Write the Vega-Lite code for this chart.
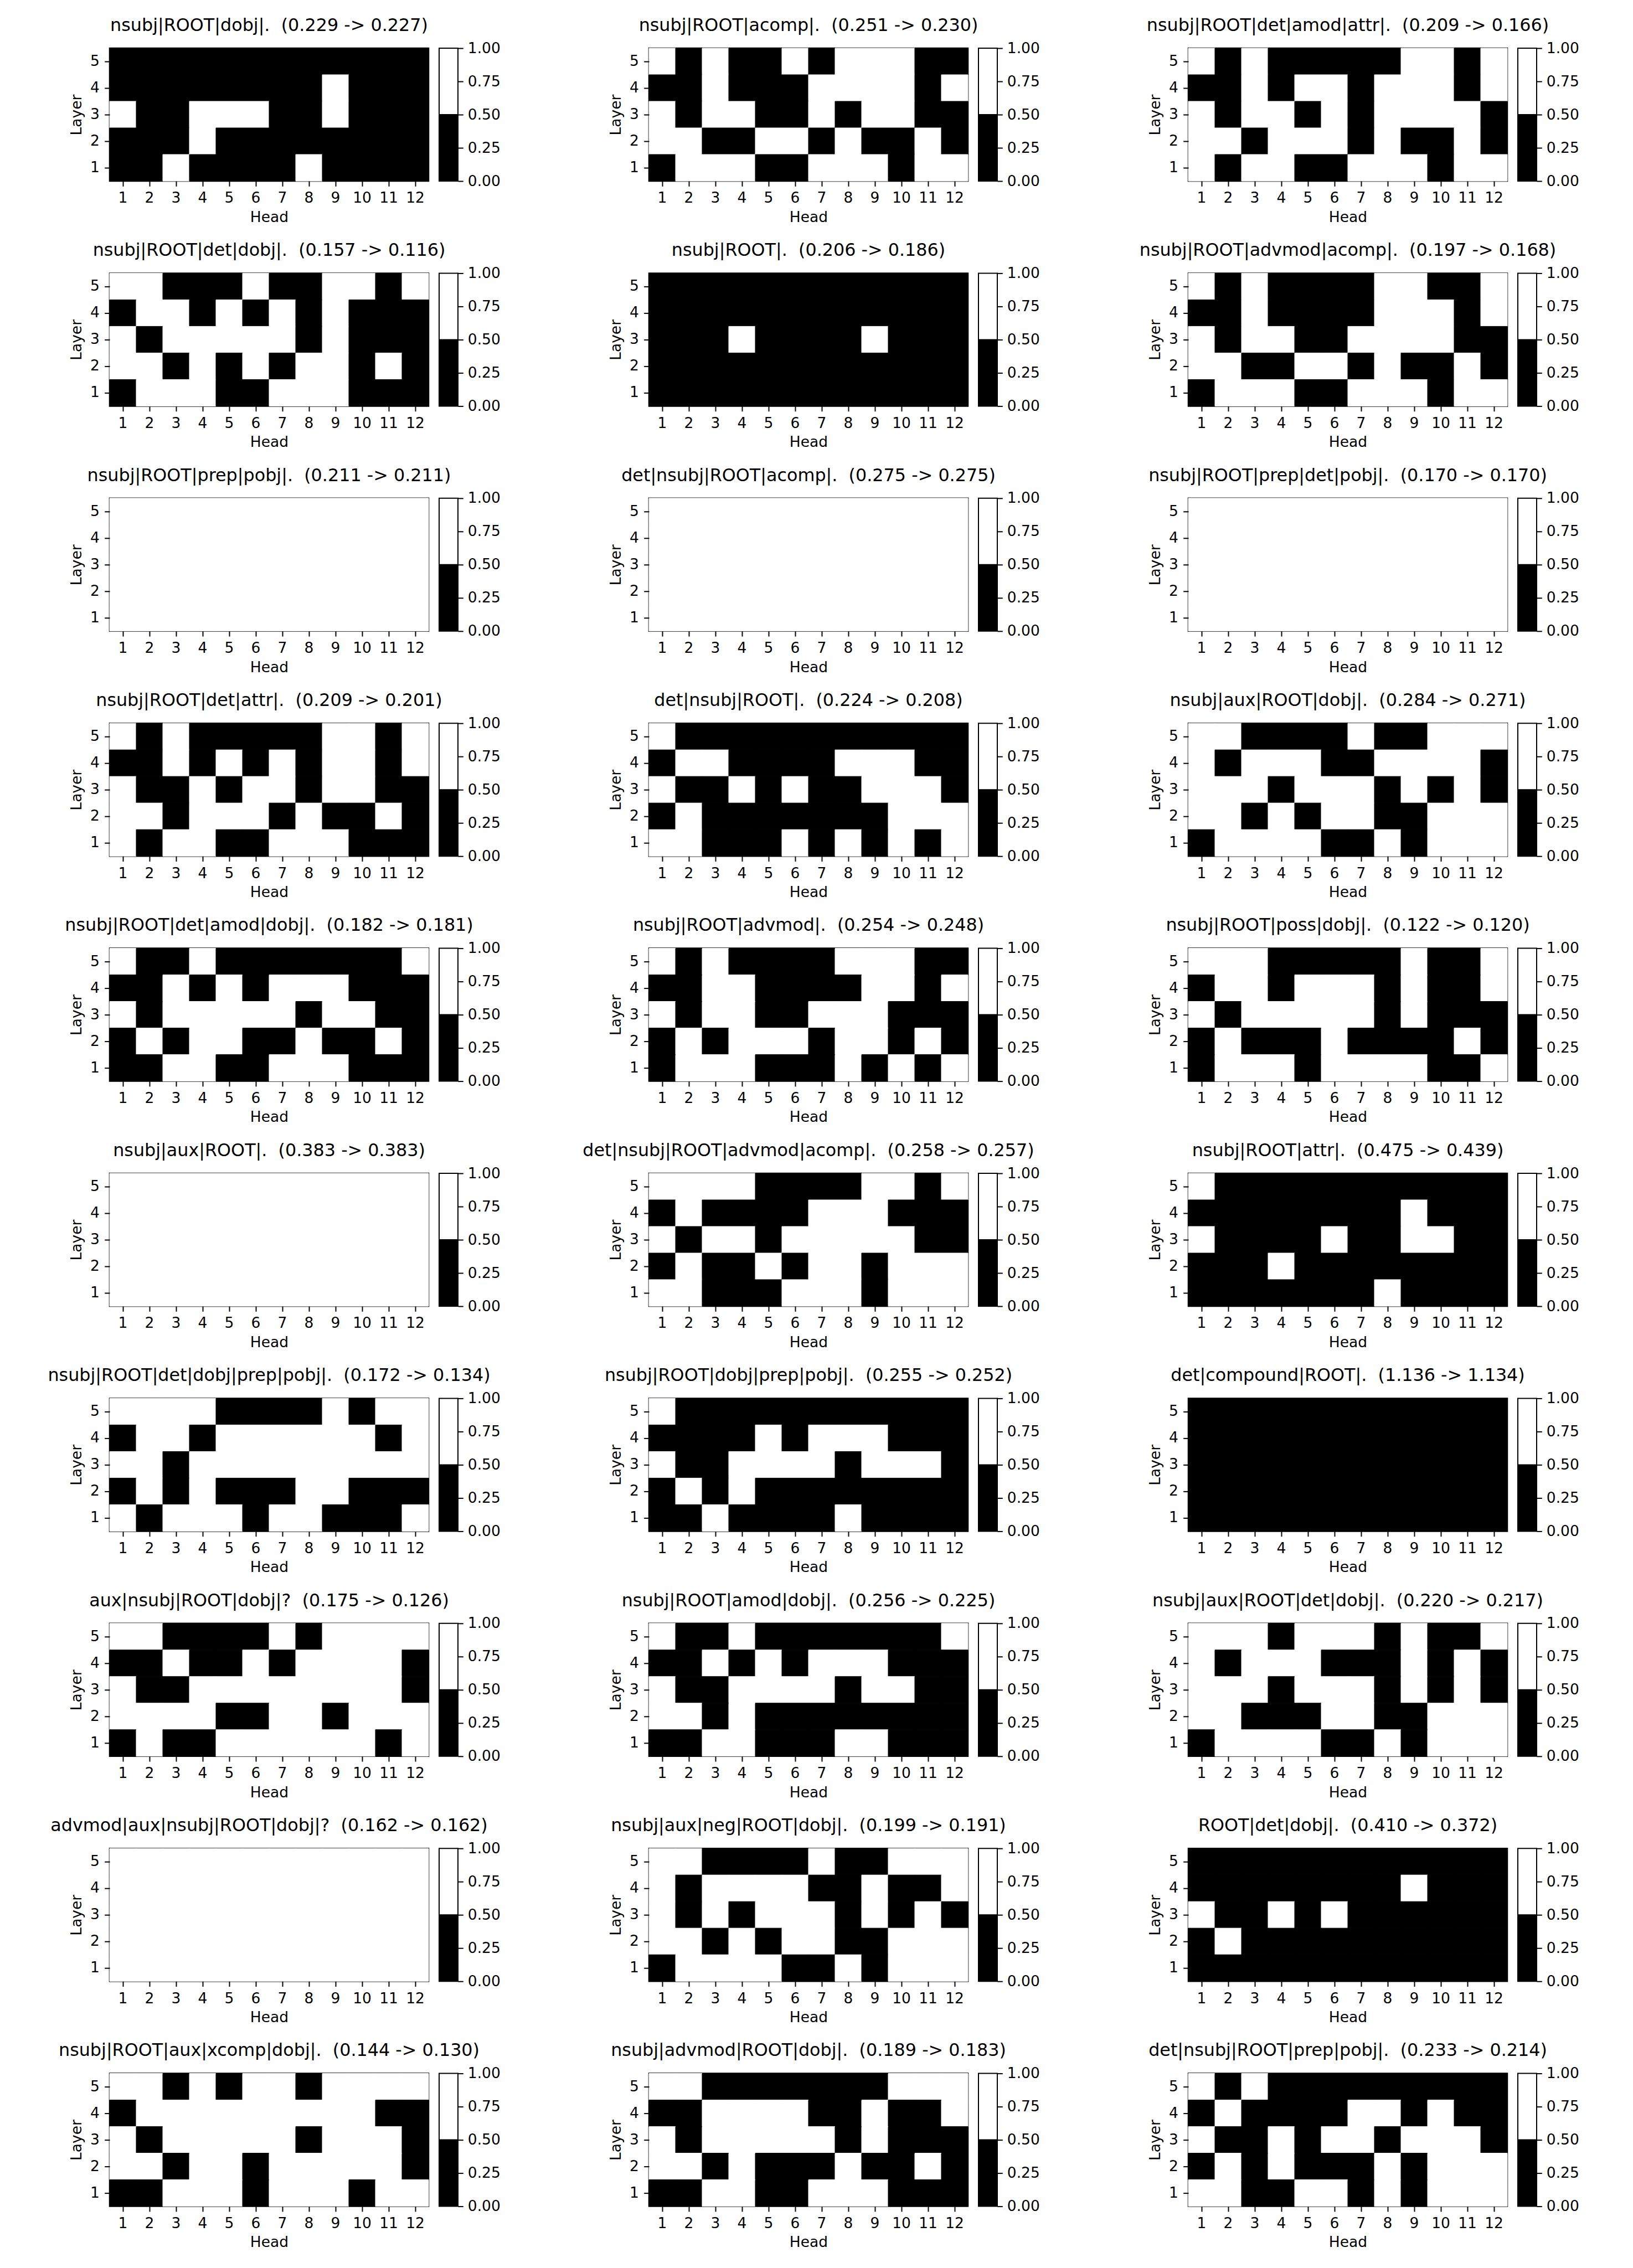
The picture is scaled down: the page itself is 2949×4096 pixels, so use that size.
{
"$schema":"https://vega.github.io/schema/vega-lite/v6.json",
"background":"white",
"padding":{"left":85,"top":29,"right":0,"bottom":0},
"datasets":{
"cb":[{"lo":0,"hi":0.5,"v":0},{"lo":0.5,"hi":1,"v":1}],
"p1":[{"l":5,"h":1,"v":0},{"l":5,"h":2,"v":0},{"l":5,"h":3,"v":0},{"l":5,"h":4,"v":0},{"l":5,"h":5,"v":0},{"l":5,"h":6,"v":0},{"l":5,"h":7,"v":0},{"l":5,"h":8,"v":0},{"l":5,"h":9,"v":0},{"l":5,"h":10,"v":0},{"l":5,"h":11,"v":0},{"l":5,"h":12,"v":0},
{"l":4,"h":1,"v":0},{"l":4,"h":2,"v":0},{"l":4,"h":3,"v":0},{"l":4,"h":4,"v":0},{"l":4,"h":5,"v":0},{"l":4,"h":6,"v":0},{"l":4,"h":7,"v":0},{"l":4,"h":8,"v":0},{"l":4,"h":9,"v":1},{"l":4,"h":10,"v":0},{"l":4,"h":11,"v":0},{"l":4,"h":12,"v":0},
{"l":3,"h":1,"v":1},{"l":3,"h":2,"v":0},{"l":3,"h":3,"v":0},{"l":3,"h":4,"v":1},{"l":3,"h":5,"v":1},{"l":3,"h":6,"v":1},{"l":3,"h":7,"v":0},{"l":3,"h":8,"v":0},{"l":3,"h":9,"v":1},{"l":3,"h":10,"v":0},{"l":3,"h":11,"v":0},{"l":3,"h":12,"v":0},
{"l":2,"h":1,"v":0},{"l":2,"h":2,"v":0},{"l":2,"h":3,"v":0},{"l":2,"h":4,"v":1},{"l":2,"h":5,"v":0},{"l":2,"h":6,"v":0},{"l":2,"h":7,"v":0},{"l":2,"h":8,"v":0},{"l":2,"h":9,"v":0},{"l":2,"h":10,"v":0},{"l":2,"h":11,"v":0},{"l":2,"h":12,"v":0},
{"l":1,"h":1,"v":0},{"l":1,"h":2,"v":0},{"l":1,"h":3,"v":1},{"l":1,"h":4,"v":0},{"l":1,"h":5,"v":0},{"l":1,"h":6,"v":0},{"l":1,"h":7,"v":0},{"l":1,"h":8,"v":1},{"l":1,"h":9,"v":0},{"l":1,"h":10,"v":0},{"l":1,"h":11,"v":0},{"l":1,"h":12,"v":0}],
"p2":[{"l":5,"h":1,"v":1},{"l":5,"h":2,"v":0},{"l":5,"h":3,"v":1},{"l":5,"h":4,"v":0},{"l":5,"h":5,"v":0},{"l":5,"h":6,"v":1},{"l":5,"h":7,"v":0},{"l":5,"h":8,"v":1},{"l":5,"h":9,"v":1},{"l":5,"h":10,"v":1},{"l":5,"h":11,"v":0},{"l":5,"h":12,"v":0},
{"l":4,"h":1,"v":0},{"l":4,"h":2,"v":0},{"l":4,"h":3,"v":1},{"l":4,"h":4,"v":0},{"l":4,"h":5,"v":0},{"l":4,"h":6,"v":0},{"l":4,"h":7,"v":1},{"l":4,"h":8,"v":1},{"l":4,"h":9,"v":1},{"l":4,"h":10,"v":1},{"l":4,"h":11,"v":0},{"l":4,"h":12,"v":1},
{"l":3,"h":1,"v":1},{"l":3,"h":2,"v":0},{"l":3,"h":3,"v":1},{"l":3,"h":4,"v":1},{"l":3,"h":5,"v":0},{"l":3,"h":6,"v":0},{"l":3,"h":7,"v":1},{"l":3,"h":8,"v":0},{"l":3,"h":9,"v":1},{"l":3,"h":10,"v":1},{"l":3,"h":11,"v":0},{"l":3,"h":12,"v":0},
{"l":2,"h":1,"v":1},{"l":2,"h":2,"v":1},{"l":2,"h":3,"v":0},{"l":2,"h":4,"v":0},{"l":2,"h":5,"v":1},{"l":2,"h":6,"v":1},{"l":2,"h":7,"v":0},{"l":2,"h":8,"v":1},{"l":2,"h":9,"v":0},{"l":2,"h":10,"v":0},{"l":2,"h":11,"v":1},{"l":2,"h":12,"v":0},
{"l":1,"h":1,"v":0},{"l":1,"h":2,"v":1},{"l":1,"h":3,"v":1},{"l":1,"h":4,"v":1},{"l":1,"h":5,"v":0},{"l":1,"h":6,"v":0},{"l":1,"h":7,"v":1},{"l":1,"h":8,"v":1},{"l":1,"h":9,"v":1},{"l":1,"h":10,"v":0},{"l":1,"h":11,"v":1},{"l":1,"h":12,"v":1}],
"p3":[{"l":5,"h":1,"v":1},{"l":5,"h":2,"v":0},{"l":5,"h":3,"v":1},{"l":5,"h":4,"v":0},{"l":5,"h":5,"v":0},{"l":5,"h":6,"v":0},{"l":5,"h":7,"v":0},{"l":5,"h":8,"v":0},{"l":5,"h":9,"v":1},{"l":5,"h":10,"v":1},{"l":5,"h":11,"v":0},{"l":5,"h":12,"v":1},
{"l":4,"h":1,"v":0},{"l":4,"h":2,"v":0},{"l":4,"h":3,"v":1},{"l":4,"h":4,"v":0},{"l":4,"h":5,"v":1},{"l":4,"h":6,"v":1},{"l":4,"h":7,"v":0},{"l":4,"h":8,"v":1},{"l":4,"h":9,"v":1},{"l":4,"h":10,"v":1},{"l":4,"h":11,"v":0},{"l":4,"h":12,"v":1},
{"l":3,"h":1,"v":1},{"l":3,"h":2,"v":0},{"l":3,"h":3,"v":1},{"l":3,"h":4,"v":1},{"l":3,"h":5,"v":0},{"l":3,"h":6,"v":1},{"l":3,"h":7,"v":0},{"l":3,"h":8,"v":1},{"l":3,"h":9,"v":1},{"l":3,"h":10,"v":1},{"l":3,"h":11,"v":1},{"l":3,"h":12,"v":0},
{"l":2,"h":1,"v":1},{"l":2,"h":2,"v":1},{"l":2,"h":3,"v":0},{"l":2,"h":4,"v":1},{"l":2,"h":5,"v":1},{"l":2,"h":6,"v":1},{"l":2,"h":7,"v":0},{"l":2,"h":8,"v":1},{"l":2,"h":9,"v":0},{"l":2,"h":10,"v":0},{"l":2,"h":11,"v":1},{"l":2,"h":12,"v":0},
{"l":1,"h":1,"v":1},{"l":1,"h":2,"v":0},{"l":1,"h":3,"v":1},{"l":1,"h":4,"v":1},{"l":1,"h":5,"v":0},{"l":1,"h":6,"v":0},{"l":1,"h":7,"v":1},{"l":1,"h":8,"v":1},{"l":1,"h":9,"v":1},{"l":1,"h":10,"v":0},{"l":1,"h":11,"v":1},{"l":1,"h":12,"v":1}],
"p4":[{"l":5,"h":1,"v":1},{"l":5,"h":2,"v":1},{"l":5,"h":3,"v":0},{"l":5,"h":4,"v":0},{"l":5,"h":5,"v":0},{"l":5,"h":6,"v":1},{"l":5,"h":7,"v":0},{"l":5,"h":8,"v":0},{"l":5,"h":9,"v":1},{"l":5,"h":10,"v":1},{"l":5,"h":11,"v":0},{"l":5,"h":12,"v":1},
{"l":4,"h":1,"v":0},{"l":4,"h":2,"v":1},{"l":4,"h":3,"v":1},{"l":4,"h":4,"v":0},{"l":4,"h":5,"v":1},{"l":4,"h":6,"v":0},{"l":4,"h":7,"v":1},{"l":4,"h":8,"v":0},{"l":4,"h":9,"v":1},{"l":4,"h":10,"v":0},{"l":4,"h":11,"v":0},{"l":4,"h":12,"v":0},
{"l":3,"h":1,"v":1},{"l":3,"h":2,"v":0},{"l":3,"h":3,"v":1},{"l":3,"h":4,"v":1},{"l":3,"h":5,"v":1},{"l":3,"h":6,"v":1},{"l":3,"h":7,"v":1},{"l":3,"h":8,"v":0},{"l":3,"h":9,"v":1},{"l":3,"h":10,"v":0},{"l":3,"h":11,"v":0},{"l":3,"h":12,"v":0},
{"l":2,"h":1,"v":1},{"l":2,"h":2,"v":1},{"l":2,"h":3,"v":0},{"l":2,"h":4,"v":1},{"l":2,"h":5,"v":0},{"l":2,"h":6,"v":1},{"l":2,"h":7,"v":0},{"l":2,"h":8,"v":1},{"l":2,"h":9,"v":1},{"l":2,"h":10,"v":0},{"l":2,"h":11,"v":1},{"l":2,"h":12,"v":0},
{"l":1,"h":1,"v":0},{"l":1,"h":2,"v":1},{"l":1,"h":3,"v":1},{"l":1,"h":4,"v":1},{"l":1,"h":5,"v":0},{"l":1,"h":6,"v":0},{"l":1,"h":7,"v":1},{"l":1,"h":8,"v":1},{"l":1,"h":9,"v":1},{"l":1,"h":10,"v":0},{"l":1,"h":11,"v":0},{"l":1,"h":12,"v":0}],
"p5":[{"l":5,"h":1,"v":0},{"l":5,"h":2,"v":0},{"l":5,"h":3,"v":0},{"l":5,"h":4,"v":0},{"l":5,"h":5,"v":0},{"l":5,"h":6,"v":0},{"l":5,"h":7,"v":0},{"l":5,"h":8,"v":0},{"l":5,"h":9,"v":0},{"l":5,"h":10,"v":0},{"l":5,"h":11,"v":0},{"l":5,"h":12,"v":0},
{"l":4,"h":1,"v":0},{"l":4,"h":2,"v":0},{"l":4,"h":3,"v":0},{"l":4,"h":4,"v":0},{"l":4,"h":5,"v":0},{"l":4,"h":6,"v":0},{"l":4,"h":7,"v":0},{"l":4,"h":8,"v":0},{"l":4,"h":9,"v":0},{"l":4,"h":10,"v":0},{"l":4,"h":11,"v":0},{"l":4,"h":12,"v":0},
{"l":3,"h":1,"v":0},{"l":3,"h":2,"v":0},{"l":3,"h":3,"v":0},{"l":3,"h":4,"v":1},{"l":3,"h":5,"v":0},{"l":3,"h":6,"v":0},{"l":3,"h":7,"v":0},{"l":3,"h":8,"v":0},{"l":3,"h":9,"v":1},{"l":3,"h":10,"v":0},{"l":3,"h":11,"v":0},{"l":3,"h":12,"v":0},
{"l":2,"h":1,"v":0},{"l":2,"h":2,"v":0},{"l":2,"h":3,"v":0},{"l":2,"h":4,"v":0},{"l":2,"h":5,"v":0},{"l":2,"h":6,"v":0},{"l":2,"h":7,"v":0},{"l":2,"h":8,"v":0},{"l":2,"h":9,"v":0},{"l":2,"h":10,"v":0},{"l":2,"h":11,"v":0},{"l":2,"h":12,"v":0},
{"l":1,"h":1,"v":0},{"l":1,"h":2,"v":0},{"l":1,"h":3,"v":0},{"l":1,"h":4,"v":0},{"l":1,"h":5,"v":0},{"l":1,"h":6,"v":0},{"l":1,"h":7,"v":0},{"l":1,"h":8,"v":0},{"l":1,"h":9,"v":0},{"l":1,"h":10,"v":0},{"l":1,"h":11,"v":0},{"l":1,"h":12,"v":0}],
"p6":[{"l":5,"h":1,"v":1},{"l":5,"h":2,"v":0},{"l":5,"h":3,"v":1},{"l":5,"h":4,"v":0},{"l":5,"h":5,"v":0},{"l":5,"h":6,"v":0},{"l":5,"h":7,"v":0},{"l":5,"h":8,"v":1},{"l":5,"h":9,"v":1},{"l":5,"h":10,"v":0},{"l":5,"h":11,"v":0},{"l":5,"h":12,"v":1},
{"l":4,"h":1,"v":0},{"l":4,"h":2,"v":0},{"l":4,"h":3,"v":1},{"l":4,"h":4,"v":0},{"l":4,"h":5,"v":0},{"l":4,"h":6,"v":0},{"l":4,"h":7,"v":0},{"l":4,"h":8,"v":1},{"l":4,"h":9,"v":1},{"l":4,"h":10,"v":1},{"l":4,"h":11,"v":0},{"l":4,"h":12,"v":1},
{"l":3,"h":1,"v":1},{"l":3,"h":2,"v":0},{"l":3,"h":3,"v":1},{"l":3,"h":4,"v":1},{"l":3,"h":5,"v":0},{"l":3,"h":6,"v":0},{"l":3,"h":7,"v":1},{"l":3,"h":8,"v":1},{"l":3,"h":9,"v":1},{"l":3,"h":10,"v":1},{"l":3,"h":11,"v":0},{"l":3,"h":12,"v":0},
{"l":2,"h":1,"v":1},{"l":2,"h":2,"v":1},{"l":2,"h":3,"v":0},{"l":2,"h":4,"v":0},{"l":2,"h":5,"v":1},{"l":2,"h":6,"v":1},{"l":2,"h":7,"v":0},{"l":2,"h":8,"v":1},{"l":2,"h":9,"v":0},{"l":2,"h":10,"v":0},{"l":2,"h":11,"v":1},{"l":2,"h":12,"v":0},
{"l":1,"h":1,"v":0},{"l":1,"h":2,"v":1},{"l":1,"h":3,"v":1},{"l":1,"h":4,"v":1},{"l":1,"h":5,"v":0},{"l":1,"h":6,"v":0},{"l":1,"h":7,"v":1},{"l":1,"h":8,"v":1},{"l":1,"h":9,"v":1},{"l":1,"h":10,"v":0},{"l":1,"h":11,"v":1},{"l":1,"h":12,"v":1}],
"white":[{"l":5,"h":1,"v":1},{"l":5,"h":2,"v":1},{"l":5,"h":3,"v":1},{"l":5,"h":4,"v":1},{"l":5,"h":5,"v":1},{"l":5,"h":6,"v":1},{"l":5,"h":7,"v":1},{"l":5,"h":8,"v":1},{"l":5,"h":9,"v":1},{"l":5,"h":10,"v":1},{"l":5,"h":11,"v":1},{"l":5,"h":12,"v":1},
{"l":4,"h":1,"v":1},{"l":4,"h":2,"v":1},{"l":4,"h":3,"v":1},{"l":4,"h":4,"v":1},{"l":4,"h":5,"v":1},{"l":4,"h":6,"v":1},{"l":4,"h":7,"v":1},{"l":4,"h":8,"v":1},{"l":4,"h":9,"v":1},{"l":4,"h":10,"v":1},{"l":4,"h":11,"v":1},{"l":4,"h":12,"v":1},
{"l":3,"h":1,"v":1},{"l":3,"h":2,"v":1},{"l":3,"h":3,"v":1},{"l":3,"h":4,"v":1},{"l":3,"h":5,"v":1},{"l":3,"h":6,"v":1},{"l":3,"h":7,"v":1},{"l":3,"h":8,"v":1},{"l":3,"h":9,"v":1},{"l":3,"h":10,"v":1},{"l":3,"h":11,"v":1},{"l":3,"h":12,"v":1},
{"l":2,"h":1,"v":1},{"l":2,"h":2,"v":1},{"l":2,"h":3,"v":1},{"l":2,"h":4,"v":1},{"l":2,"h":5,"v":1},{"l":2,"h":6,"v":1},{"l":2,"h":7,"v":1},{"l":2,"h":8,"v":1},{"l":2,"h":9,"v":1},{"l":2,"h":10,"v":1},{"l":2,"h":11,"v":1},{"l":2,"h":12,"v":1},
{"l":1,"h":1,"v":1},{"l":1,"h":2,"v":1},{"l":1,"h":3,"v":1},{"l":1,"h":4,"v":1},{"l":1,"h":5,"v":1},{"l":1,"h":6,"v":1},{"l":1,"h":7,"v":1},{"l":1,"h":8,"v":1},{"l":1,"h":9,"v":1},{"l":1,"h":10,"v":1},{"l":1,"h":11,"v":1},{"l":1,"h":12,"v":1}],
"black":[{"l":5,"h":1,"v":0},{"l":5,"h":2,"v":0},{"l":5,"h":3,"v":0},{"l":5,"h":4,"v":0},{"l":5,"h":5,"v":0},{"l":5,"h":6,"v":0},{"l":5,"h":7,"v":0},{"l":5,"h":8,"v":0},{"l":5,"h":9,"v":0},{"l":5,"h":10,"v":0},{"l":5,"h":11,"v":0},{"l":5,"h":12,"v":0},
{"l":4,"h":1,"v":0},{"l":4,"h":2,"v":0},{"l":4,"h":3,"v":0},{"l":4,"h":4,"v":0},{"l":4,"h":5,"v":0},{"l":4,"h":6,"v":0},{"l":4,"h":7,"v":0},{"l":4,"h":8,"v":0},{"l":4,"h":9,"v":0},{"l":4,"h":10,"v":0},{"l":4,"h":11,"v":0},{"l":4,"h":12,"v":0},
{"l":3,"h":1,"v":0},{"l":3,"h":2,"v":0},{"l":3,"h":3,"v":0},{"l":3,"h":4,"v":0},{"l":3,"h":5,"v":0},{"l":3,"h":6,"v":0},{"l":3,"h":7,"v":0},{"l":3,"h":8,"v":0},{"l":3,"h":9,"v":0},{"l":3,"h":10,"v":0},{"l":3,"h":11,"v":0},{"l":3,"h":12,"v":0},
{"l":2,"h":1,"v":0},{"l":2,"h":2,"v":0},{"l":2,"h":3,"v":0},{"l":2,"h":4,"v":0},{"l":2,"h":5,"v":0},{"l":2,"h":6,"v":0},{"l":2,"h":7,"v":0},{"l":2,"h":8,"v":0},{"l":2,"h":9,"v":0},{"l":2,"h":10,"v":0},{"l":2,"h":11,"v":0},{"l":2,"h":12,"v":0},
{"l":1,"h":1,"v":0},{"l":1,"h":2,"v":0},{"l":1,"h":3,"v":0},{"l":1,"h":4,"v":0},{"l":1,"h":5,"v":0},{"l":1,"h":6,"v":0},{"l":1,"h":7,"v":0},{"l":1,"h":8,"v":0},{"l":1,"h":9,"v":0},{"l":1,"h":10,"v":0},{"l":1,"h":11,"v":0},{"l":1,"h":12,"v":0}],
"p10":[{"l":5,"h":1,"v":1},{"l":5,"h":2,"v":0},{"l":5,"h":3,"v":1},{"l":5,"h":4,"v":0},{"l":5,"h":5,"v":0},{"l":5,"h":6,"v":0},{"l":5,"h":7,"v":0},{"l":5,"h":8,"v":0},{"l":5,"h":9,"v":1},{"l":5,"h":10,"v":1},{"l":5,"h":11,"v":0},{"l":5,"h":12,"v":1},
{"l":4,"h":1,"v":0},{"l":4,"h":2,"v":0},{"l":4,"h":3,"v":1},{"l":4,"h":4,"v":0},{"l":4,"h":5,"v":1},{"l":4,"h":6,"v":0},{"l":4,"h":7,"v":1},{"l":4,"h":8,"v":0},{"l":4,"h":9,"v":1},{"l":4,"h":10,"v":1},{"l":4,"h":11,"v":0},{"l":4,"h":12,"v":1},
{"l":3,"h":1,"v":1},{"l":3,"h":2,"v":0},{"l":3,"h":3,"v":0},{"l":3,"h":4,"v":1},{"l":3,"h":5,"v":0},{"l":3,"h":6,"v":1},{"l":3,"h":7,"v":1},{"l":3,"h":8,"v":0},{"l":3,"h":9,"v":1},{"l":3,"h":10,"v":1},{"l":3,"h":11,"v":0},{"l":3,"h":12,"v":0},
{"l":2,"h":1,"v":1},{"l":2,"h":2,"v":1},{"l":2,"h":3,"v":0},{"l":2,"h":4,"v":1},{"l":2,"h":5,"v":1},{"l":2,"h":6,"v":1},{"l":2,"h":7,"v":0},{"l":2,"h":8,"v":1},{"l":2,"h":9,"v":0},{"l":2,"h":10,"v":0},{"l":2,"h":11,"v":1},{"l":2,"h":12,"v":0},
{"l":1,"h":1,"v":1},{"l":1,"h":2,"v":0},{"l":1,"h":3,"v":1},{"l":1,"h":4,"v":1},{"l":1,"h":5,"v":0},{"l":1,"h":6,"v":0},{"l":1,"h":7,"v":1},{"l":1,"h":8,"v":1},{"l":1,"h":9,"v":1},{"l":1,"h":10,"v":0},{"l":1,"h":11,"v":0},{"l":1,"h":12,"v":0}],
"p11":[{"l":5,"h":1,"v":1},{"l":5,"h":2,"v":0},{"l":5,"h":3,"v":0},{"l":5,"h":4,"v":0},{"l":5,"h":5,"v":0},{"l":5,"h":6,"v":0},{"l":5,"h":7,"v":0},{"l":5,"h":8,"v":0},{"l":5,"h":9,"v":0},{"l":5,"h":10,"v":0},{"l":5,"h":11,"v":0},{"l":5,"h":12,"v":0},
{"l":4,"h":1,"v":0},{"l":4,"h":2,"v":1},{"l":4,"h":3,"v":1},{"l":4,"h":4,"v":0},{"l":4,"h":5,"v":0},{"l":4,"h":6,"v":0},{"l":4,"h":7,"v":0},{"l":4,"h":8,"v":1},{"l":4,"h":9,"v":1},{"l":4,"h":10,"v":1},{"l":4,"h":11,"v":0},{"l":4,"h":12,"v":0},
{"l":3,"h":1,"v":1},{"l":3,"h":2,"v":0},{"l":3,"h":3,"v":0},{"l":3,"h":4,"v":1},{"l":3,"h":5,"v":0},{"l":3,"h":6,"v":1},{"l":3,"h":7,"v":0},{"l":3,"h":8,"v":0},{"l":3,"h":9,"v":1},{"l":3,"h":10,"v":1},{"l":3,"h":11,"v":1},{"l":3,"h":12,"v":0},
{"l":2,"h":1,"v":0},{"l":2,"h":2,"v":1},{"l":2,"h":3,"v":0},{"l":2,"h":4,"v":0},{"l":2,"h":5,"v":0},{"l":2,"h":6,"v":0},{"l":2,"h":7,"v":0},{"l":2,"h":8,"v":0},{"l":2,"h":9,"v":0},{"l":2,"h":10,"v":1},{"l":2,"h":11,"v":1},{"l":2,"h":12,"v":1},
{"l":1,"h":1,"v":1},{"l":1,"h":2,"v":1},{"l":1,"h":3,"v":0},{"l":1,"h":4,"v":0},{"l":1,"h":5,"v":0},{"l":1,"h":6,"v":1},{"l":1,"h":7,"v":0},{"l":1,"h":8,"v":1},{"l":1,"h":9,"v":0},{"l":1,"h":10,"v":1},{"l":1,"h":11,"v":0},{"l":1,"h":12,"v":1}],
"p12":[{"l":5,"h":1,"v":1},{"l":5,"h":2,"v":1},{"l":5,"h":3,"v":0},{"l":5,"h":4,"v":0},{"l":5,"h":5,"v":0},{"l":5,"h":6,"v":0},{"l":5,"h":7,"v":1},{"l":5,"h":8,"v":0},{"l":5,"h":9,"v":0},{"l":5,"h":10,"v":1},{"l":5,"h":11,"v":1},{"l":5,"h":12,"v":1},
{"l":4,"h":1,"v":1},{"l":4,"h":2,"v":0},{"l":4,"h":3,"v":1},{"l":4,"h":4,"v":1},{"l":4,"h":5,"v":1},{"l":4,"h":6,"v":0},{"l":4,"h":7,"v":0},{"l":4,"h":8,"v":1},{"l":4,"h":9,"v":1},{"l":4,"h":10,"v":1},{"l":4,"h":11,"v":1},{"l":4,"h":12,"v":0},
{"l":3,"h":1,"v":1},{"l":3,"h":2,"v":1},{"l":3,"h":3,"v":1},{"l":3,"h":4,"v":0},{"l":3,"h":5,"v":1},{"l":3,"h":6,"v":1},{"l":3,"h":7,"v":1},{"l":3,"h":8,"v":0},{"l":3,"h":9,"v":1},{"l":3,"h":10,"v":0},{"l":3,"h":11,"v":1},{"l":3,"h":12,"v":0},
{"l":2,"h":1,"v":1},{"l":2,"h":2,"v":1},{"l":2,"h":3,"v":0},{"l":2,"h":4,"v":1},{"l":2,"h":5,"v":0},{"l":2,"h":6,"v":1},{"l":2,"h":7,"v":1},{"l":2,"h":8,"v":0},{"l":2,"h":9,"v":0},{"l":2,"h":10,"v":1},{"l":2,"h":11,"v":1},{"l":2,"h":12,"v":1},
{"l":1,"h":1,"v":0},{"l":1,"h":2,"v":1},{"l":1,"h":3,"v":1},{"l":1,"h":4,"v":1},{"l":1,"h":5,"v":1},{"l":1,"h":6,"v":0},{"l":1,"h":7,"v":0},{"l":1,"h":8,"v":1},{"l":1,"h":9,"v":0},{"l":1,"h":10,"v":1},{"l":1,"h":11,"v":1},{"l":1,"h":12,"v":1}],
"p13":[{"l":5,"h":1,"v":1},{"l":5,"h":2,"v":0},{"l":5,"h":3,"v":0},{"l":5,"h":4,"v":1},{"l":5,"h":5,"v":0},{"l":5,"h":6,"v":0},{"l":5,"h":7,"v":0},{"l":5,"h":8,"v":0},{"l":5,"h":9,"v":0},{"l":5,"h":10,"v":0},{"l":5,"h":11,"v":0},{"l":5,"h":12,"v":1},
{"l":4,"h":1,"v":0},{"l":4,"h":2,"v":0},{"l":4,"h":3,"v":1},{"l":4,"h":4,"v":0},{"l":4,"h":5,"v":1},{"l":4,"h":6,"v":0},{"l":4,"h":7,"v":1},{"l":4,"h":8,"v":1},{"l":4,"h":9,"v":1},{"l":4,"h":10,"v":0},{"l":4,"h":11,"v":0},{"l":4,"h":12,"v":0},
{"l":3,"h":1,"v":1},{"l":3,"h":2,"v":0},{"l":3,"h":3,"v":1},{"l":3,"h":4,"v":1},{"l":3,"h":5,"v":1},{"l":3,"h":6,"v":1},{"l":3,"h":7,"v":1},{"l":3,"h":8,"v":0},{"l":3,"h":9,"v":1},{"l":3,"h":10,"v":1},{"l":3,"h":11,"v":0},{"l":3,"h":12,"v":0},
{"l":2,"h":1,"v":0},{"l":2,"h":2,"v":1},{"l":2,"h":3,"v":0},{"l":2,"h":4,"v":1},{"l":2,"h":5,"v":1},{"l":2,"h":6,"v":0},{"l":2,"h":7,"v":0},{"l":2,"h":8,"v":1},{"l":2,"h":9,"v":0},{"l":2,"h":10,"v":0},{"l":2,"h":11,"v":1},{"l":2,"h":12,"v":0},
{"l":1,"h":1,"v":0},{"l":1,"h":2,"v":0},{"l":1,"h":3,"v":1},{"l":1,"h":4,"v":1},{"l":1,"h":5,"v":0},{"l":1,"h":6,"v":0},{"l":1,"h":7,"v":1},{"l":1,"h":8,"v":1},{"l":1,"h":9,"v":1},{"l":1,"h":10,"v":0},{"l":1,"h":11,"v":0},{"l":1,"h":12,"v":0}],
"p14":[{"l":5,"h":1,"v":1},{"l":5,"h":2,"v":0},{"l":5,"h":3,"v":1},{"l":5,"h":4,"v":0},{"l":5,"h":5,"v":0},{"l":5,"h":6,"v":0},{"l":5,"h":7,"v":0},{"l":5,"h":8,"v":1},{"l":5,"h":9,"v":1},{"l":5,"h":10,"v":1},{"l":5,"h":11,"v":0},{"l":5,"h":12,"v":0},
{"l":4,"h":1,"v":0},{"l":4,"h":2,"v":0},{"l":4,"h":3,"v":1},{"l":4,"h":4,"v":1},{"l":4,"h":5,"v":0},{"l":4,"h":6,"v":0},{"l":4,"h":7,"v":0},{"l":4,"h":8,"v":0},{"l":4,"h":9,"v":1},{"l":4,"h":10,"v":1},{"l":4,"h":11,"v":0},{"l":4,"h":12,"v":1},
{"l":3,"h":1,"v":1},{"l":3,"h":2,"v":0},{"l":3,"h":3,"v":1},{"l":3,"h":4,"v":1},{"l":3,"h":5,"v":0},{"l":3,"h":6,"v":0},{"l":3,"h":7,"v":1},{"l":3,"h":8,"v":1},{"l":3,"h":9,"v":1},{"l":3,"h":10,"v":0},{"l":3,"h":11,"v":0},{"l":3,"h":12,"v":0},
{"l":2,"h":1,"v":0},{"l":2,"h":2,"v":1},{"l":2,"h":3,"v":0},{"l":2,"h":4,"v":1},{"l":2,"h":5,"v":1},{"l":2,"h":6,"v":1},{"l":2,"h":7,"v":0},{"l":2,"h":8,"v":1},{"l":2,"h":9,"v":1},{"l":2,"h":10,"v":0},{"l":2,"h":11,"v":1},{"l":2,"h":12,"v":0},
{"l":1,"h":1,"v":0},{"l":1,"h":2,"v":1},{"l":1,"h":3,"v":1},{"l":1,"h":4,"v":1},{"l":1,"h":5,"v":0},{"l":1,"h":6,"v":0},{"l":1,"h":7,"v":0},{"l":1,"h":8,"v":1},{"l":1,"h":9,"v":0},{"l":1,"h":10,"v":1},{"l":1,"h":11,"v":0},{"l":1,"h":12,"v":1}],
"p15":[{"l":5,"h":1,"v":1},{"l":5,"h":2,"v":1},{"l":5,"h":3,"v":1},{"l":5,"h":4,"v":0},{"l":5,"h":5,"v":0},{"l":5,"h":6,"v":0},{"l":5,"h":7,"v":0},{"l":5,"h":8,"v":0},{"l":5,"h":9,"v":1},{"l":5,"h":10,"v":0},{"l":5,"h":11,"v":0},{"l":5,"h":12,"v":1},
{"l":4,"h":1,"v":0},{"l":4,"h":2,"v":1},{"l":4,"h":3,"v":1},{"l":4,"h":4,"v":0},{"l":4,"h":5,"v":1},{"l":4,"h":6,"v":1},{"l":4,"h":7,"v":1},{"l":4,"h":8,"v":0},{"l":4,"h":9,"v":1},{"l":4,"h":10,"v":0},{"l":4,"h":11,"v":0},{"l":4,"h":12,"v":1},
{"l":3,"h":1,"v":1},{"l":3,"h":2,"v":0},{"l":3,"h":3,"v":1},{"l":3,"h":4,"v":1},{"l":3,"h":5,"v":1},{"l":3,"h":6,"v":1},{"l":3,"h":7,"v":1},{"l":3,"h":8,"v":0},{"l":3,"h":9,"v":1},{"l":3,"h":10,"v":0},{"l":3,"h":11,"v":0},{"l":3,"h":12,"v":0},
{"l":2,"h":1,"v":0},{"l":2,"h":2,"v":1},{"l":2,"h":3,"v":0},{"l":2,"h":4,"v":0},{"l":2,"h":5,"v":0},{"l":2,"h":6,"v":1},{"l":2,"h":7,"v":0},{"l":2,"h":8,"v":0},{"l":2,"h":9,"v":0},{"l":2,"h":10,"v":0},{"l":2,"h":11,"v":1},{"l":2,"h":12,"v":0},
{"l":1,"h":1,"v":0},{"l":1,"h":2,"v":1},{"l":1,"h":3,"v":1},{"l":1,"h":4,"v":1},{"l":1,"h":5,"v":0},{"l":1,"h":6,"v":1},{"l":1,"h":7,"v":1},{"l":1,"h":8,"v":1},{"l":1,"h":9,"v":1},{"l":1,"h":10,"v":0},{"l":1,"h":11,"v":0},{"l":1,"h":12,"v":1}],
"p17":[{"l":5,"h":1,"v":1},{"l":5,"h":2,"v":1},{"l":5,"h":3,"v":1},{"l":5,"h":4,"v":1},{"l":5,"h":5,"v":0},{"l":5,"h":6,"v":0},{"l":5,"h":7,"v":0},{"l":5,"h":8,"v":0},{"l":5,"h":9,"v":1},{"l":5,"h":10,"v":1},{"l":5,"h":11,"v":0},{"l":5,"h":12,"v":1},
{"l":4,"h":1,"v":0},{"l":4,"h":2,"v":1},{"l":4,"h":3,"v":0},{"l":4,"h":4,"v":0},{"l":4,"h":5,"v":0},{"l":4,"h":6,"v":0},{"l":4,"h":7,"v":1},{"l":4,"h":8,"v":1},{"l":4,"h":9,"v":1},{"l":4,"h":10,"v":0},{"l":4,"h":11,"v":0},{"l":4,"h":12,"v":0},
{"l":3,"h":1,"v":1},{"l":3,"h":2,"v":0},{"l":3,"h":3,"v":1},{"l":3,"h":4,"v":1},{"l":3,"h":5,"v":0},{"l":3,"h":6,"v":1},{"l":3,"h":7,"v":1},{"l":3,"h":8,"v":1},{"l":3,"h":9,"v":1},{"l":3,"h":10,"v":1},{"l":3,"h":11,"v":0},{"l":3,"h":12,"v":0},
{"l":2,"h":1,"v":0},{"l":2,"h":2,"v":1},{"l":2,"h":3,"v":0},{"l":2,"h":4,"v":0},{"l":2,"h":5,"v":1},{"l":2,"h":6,"v":0},{"l":2,"h":7,"v":1},{"l":2,"h":8,"v":1},{"l":2,"h":9,"v":0},{"l":2,"h":10,"v":1},{"l":2,"h":11,"v":1},{"l":2,"h":12,"v":1},
{"l":1,"h":1,"v":1},{"l":1,"h":2,"v":1},{"l":1,"h":3,"v":0},{"l":1,"h":4,"v":0},{"l":1,"h":5,"v":0},{"l":1,"h":6,"v":1},{"l":1,"h":7,"v":1},{"l":1,"h":8,"v":1},{"l":1,"h":9,"v":0},{"l":1,"h":10,"v":1},{"l":1,"h":11,"v":1},{"l":1,"h":12,"v":1}],
"p18":[{"l":5,"h":1,"v":1},{"l":5,"h":2,"v":0},{"l":5,"h":3,"v":0},{"l":5,"h":4,"v":0},{"l":5,"h":5,"v":0},{"l":5,"h":6,"v":0},{"l":5,"h":7,"v":0},{"l":5,"h":8,"v":0},{"l":5,"h":9,"v":0},{"l":5,"h":10,"v":0},{"l":5,"h":11,"v":0},{"l":5,"h":12,"v":0},
{"l":4,"h":1,"v":0},{"l":4,"h":2,"v":0},{"l":4,"h":3,"v":0},{"l":4,"h":4,"v":0},{"l":4,"h":5,"v":0},{"l":4,"h":6,"v":0},{"l":4,"h":7,"v":0},{"l":4,"h":8,"v":0},{"l":4,"h":9,"v":1},{"l":4,"h":10,"v":0},{"l":4,"h":11,"v":0},{"l":4,"h":12,"v":0},
{"l":3,"h":1,"v":1},{"l":3,"h":2,"v":0},{"l":3,"h":3,"v":0},{"l":3,"h":4,"v":0},{"l":3,"h":5,"v":0},{"l":3,"h":6,"v":1},{"l":3,"h":7,"v":0},{"l":3,"h":8,"v":0},{"l":3,"h":9,"v":1},{"l":3,"h":10,"v":1},{"l":3,"h":11,"v":0},{"l":3,"h":12,"v":0},
{"l":2,"h":1,"v":0},{"l":2,"h":2,"v":0},{"l":2,"h":3,"v":0},{"l":2,"h":4,"v":1},{"l":2,"h":5,"v":0},{"l":2,"h":6,"v":0},{"l":2,"h":7,"v":0},{"l":2,"h":8,"v":0},{"l":2,"h":9,"v":0},{"l":2,"h":10,"v":0},{"l":2,"h":11,"v":0},{"l":2,"h":12,"v":0},
{"l":1,"h":1,"v":0},{"l":1,"h":2,"v":0},{"l":1,"h":3,"v":0},{"l":1,"h":4,"v":0},{"l":1,"h":5,"v":0},{"l":1,"h":6,"v":0},{"l":1,"h":7,"v":0},{"l":1,"h":8,"v":1},{"l":1,"h":9,"v":0},{"l":1,"h":10,"v":0},{"l":1,"h":11,"v":0},{"l":1,"h":12,"v":0}],
"p19":[{"l":5,"h":1,"v":1},{"l":5,"h":2,"v":1},{"l":5,"h":3,"v":1},{"l":5,"h":4,"v":1},{"l":5,"h":5,"v":0},{"l":5,"h":6,"v":0},{"l":5,"h":7,"v":0},{"l":5,"h":8,"v":0},{"l":5,"h":9,"v":1},{"l":5,"h":10,"v":0},{"l":5,"h":11,"v":1},{"l":5,"h":12,"v":1},
{"l":4,"h":1,"v":0},{"l":4,"h":2,"v":1},{"l":4,"h":3,"v":1},{"l":4,"h":4,"v":0},{"l":4,"h":5,"v":1},{"l":4,"h":6,"v":1},{"l":4,"h":7,"v":1},{"l":4,"h":8,"v":1},{"l":4,"h":9,"v":1},{"l":4,"h":10,"v":1},{"l":4,"h":11,"v":0},{"l":4,"h":12,"v":1},
{"l":3,"h":1,"v":1},{"l":3,"h":2,"v":1},{"l":3,"h":3,"v":0},{"l":3,"h":4,"v":1},{"l":3,"h":5,"v":1},{"l":3,"h":6,"v":1},{"l":3,"h":7,"v":1},{"l":3,"h":8,"v":1},{"l":3,"h":9,"v":1},{"l":3,"h":10,"v":1},{"l":3,"h":11,"v":1},{"l":3,"h":12,"v":1},
{"l":2,"h":1,"v":0},{"l":2,"h":2,"v":1},{"l":2,"h":3,"v":0},{"l":2,"h":4,"v":1},{"l":2,"h":5,"v":0},{"l":2,"h":6,"v":0},{"l":2,"h":7,"v":0},{"l":2,"h":8,"v":1},{"l":2,"h":9,"v":1},{"l":2,"h":10,"v":0},{"l":2,"h":11,"v":0},{"l":2,"h":12,"v":0},
{"l":1,"h":1,"v":1},{"l":1,"h":2,"v":0},{"l":1,"h":3,"v":1},{"l":1,"h":4,"v":1},{"l":1,"h":5,"v":1},{"l":1,"h":6,"v":0},{"l":1,"h":7,"v":1},{"l":1,"h":8,"v":1},{"l":1,"h":9,"v":0},{"l":1,"h":10,"v":0},{"l":1,"h":11,"v":0},{"l":1,"h":12,"v":1}],
"p20":[{"l":5,"h":1,"v":1},{"l":5,"h":2,"v":0},{"l":5,"h":3,"v":0},{"l":5,"h":4,"v":0},{"l":5,"h":5,"v":0},{"l":5,"h":6,"v":0},{"l":5,"h":7,"v":0},{"l":5,"h":8,"v":0},{"l":5,"h":9,"v":0},{"l":5,"h":10,"v":0},{"l":5,"h":11,"v":0},{"l":5,"h":12,"v":0},
{"l":4,"h":1,"v":0},{"l":4,"h":2,"v":0},{"l":4,"h":3,"v":0},{"l":4,"h":4,"v":0},{"l":4,"h":5,"v":1},{"l":4,"h":6,"v":0},{"l":4,"h":7,"v":1},{"l":4,"h":8,"v":1},{"l":4,"h":9,"v":1},{"l":4,"h":10,"v":0},{"l":4,"h":11,"v":0},{"l":4,"h":12,"v":0},
{"l":3,"h":1,"v":1},{"l":3,"h":2,"v":0},{"l":3,"h":3,"v":0},{"l":3,"h":4,"v":1},{"l":3,"h":5,"v":1},{"l":3,"h":6,"v":1},{"l":3,"h":7,"v":1},{"l":3,"h":8,"v":0},{"l":3,"h":9,"v":1},{"l":3,"h":10,"v":1},{"l":3,"h":11,"v":1},{"l":3,"h":12,"v":0},
{"l":2,"h":1,"v":0},{"l":2,"h":2,"v":1},{"l":2,"h":3,"v":0},{"l":2,"h":4,"v":1},{"l":2,"h":5,"v":0},{"l":2,"h":6,"v":0},{"l":2,"h":7,"v":0},{"l":2,"h":8,"v":0},{"l":2,"h":9,"v":0},{"l":2,"h":10,"v":0},{"l":2,"h":11,"v":0},{"l":2,"h":12,"v":0},
{"l":1,"h":1,"v":0},{"l":1,"h":2,"v":0},{"l":1,"h":3,"v":1},{"l":1,"h":4,"v":0},{"l":1,"h":5,"v":0},{"l":1,"h":6,"v":0},{"l":1,"h":7,"v":0},{"l":1,"h":8,"v":1},{"l":1,"h":9,"v":0},{"l":1,"h":10,"v":0},{"l":1,"h":11,"v":0},{"l":1,"h":12,"v":0}],
"p22":[{"l":5,"h":1,"v":1},{"l":5,"h":2,"v":1},{"l":5,"h":3,"v":0},{"l":5,"h":4,"v":0},{"l":5,"h":5,"v":0},{"l":5,"h":6,"v":0},{"l":5,"h":7,"v":1},{"l":5,"h":8,"v":0},{"l":5,"h":9,"v":1},{"l":5,"h":10,"v":1},{"l":5,"h":11,"v":1},{"l":5,"h":12,"v":1},
{"l":4,"h":1,"v":0},{"l":4,"h":2,"v":0},{"l":4,"h":3,"v":1},{"l":4,"h":4,"v":0},{"l":4,"h":5,"v":0},{"l":4,"h":6,"v":1},{"l":4,"h":7,"v":0},{"l":4,"h":8,"v":1},{"l":4,"h":9,"v":1},{"l":4,"h":10,"v":1},{"l":4,"h":11,"v":1},{"l":4,"h":12,"v":0},
{"l":3,"h":1,"v":1},{"l":3,"h":2,"v":0},{"l":3,"h":3,"v":0},{"l":3,"h":4,"v":1},{"l":3,"h":5,"v":1},{"l":3,"h":6,"v":1},{"l":3,"h":7,"v":1},{"l":3,"h":8,"v":1},{"l":3,"h":9,"v":1},{"l":3,"h":10,"v":1},{"l":3,"h":11,"v":1},{"l":3,"h":12,"v":0},
{"l":2,"h":1,"v":1},{"l":2,"h":2,"v":1},{"l":2,"h":3,"v":1},{"l":2,"h":4,"v":1},{"l":2,"h":5,"v":0},{"l":2,"h":6,"v":0},{"l":2,"h":7,"v":1},{"l":2,"h":8,"v":1},{"l":2,"h":9,"v":0},{"l":2,"h":10,"v":1},{"l":2,"h":11,"v":1},{"l":2,"h":12,"v":1},
{"l":1,"h":1,"v":0},{"l":1,"h":2,"v":1},{"l":1,"h":3,"v":0},{"l":1,"h":4,"v":0},{"l":1,"h":5,"v":1},{"l":1,"h":6,"v":1},{"l":1,"h":7,"v":1},{"l":1,"h":8,"v":1},{"l":1,"h":9,"v":1},{"l":1,"h":10,"v":1},{"l":1,"h":11,"v":0},{"l":1,"h":12,"v":1}],
"p23":[{"l":5,"h":1,"v":1},{"l":5,"h":2,"v":0},{"l":5,"h":3,"v":0},{"l":5,"h":4,"v":1},{"l":5,"h":5,"v":0},{"l":5,"h":6,"v":0},{"l":5,"h":7,"v":0},{"l":5,"h":8,"v":0},{"l":5,"h":9,"v":0},{"l":5,"h":10,"v":0},{"l":5,"h":11,"v":0},{"l":5,"h":12,"v":1},
{"l":4,"h":1,"v":0},{"l":4,"h":2,"v":0},{"l":4,"h":3,"v":1},{"l":4,"h":4,"v":0},{"l":4,"h":5,"v":1},{"l":4,"h":6,"v":0},{"l":4,"h":7,"v":1},{"l":4,"h":8,"v":1},{"l":4,"h":9,"v":1},{"l":4,"h":10,"v":0},{"l":4,"h":11,"v":0},{"l":4,"h":12,"v":0},
{"l":3,"h":1,"v":1},{"l":3,"h":2,"v":0},{"l":3,"h":3,"v":0},{"l":3,"h":4,"v":1},{"l":3,"h":5,"v":1},{"l":3,"h":6,"v":1},{"l":3,"h":7,"v":1},{"l":3,"h":8,"v":0},{"l":3,"h":9,"v":1},{"l":3,"h":10,"v":1},{"l":3,"h":11,"v":0},{"l":3,"h":12,"v":0},
{"l":2,"h":1,"v":1},{"l":2,"h":2,"v":1},{"l":2,"h":3,"v":0},{"l":2,"h":4,"v":1},{"l":2,"h":5,"v":0},{"l":2,"h":6,"v":0},{"l":2,"h":7,"v":0},{"l":2,"h":8,"v":0},{"l":2,"h":9,"v":0},{"l":2,"h":10,"v":0},{"l":2,"h":11,"v":0},{"l":2,"h":12,"v":0},
{"l":1,"h":1,"v":0},{"l":1,"h":2,"v":0},{"l":1,"h":3,"v":1},{"l":1,"h":4,"v":1},{"l":1,"h":5,"v":0},{"l":1,"h":6,"v":0},{"l":1,"h":7,"v":0},{"l":1,"h":8,"v":1},{"l":1,"h":9,"v":1},{"l":1,"h":10,"v":0},{"l":1,"h":11,"v":0},{"l":1,"h":12,"v":0}],
"p24":[{"l":5,"h":1,"v":1},{"l":5,"h":2,"v":1},{"l":5,"h":3,"v":1},{"l":5,"h":4,"v":0},{"l":5,"h":5,"v":1},{"l":5,"h":6,"v":1},{"l":5,"h":7,"v":1},{"l":5,"h":8,"v":0},{"l":5,"h":9,"v":1},{"l":5,"h":10,"v":0},{"l":5,"h":11,"v":0},{"l":5,"h":12,"v":1},
{"l":4,"h":1,"v":1},{"l":4,"h":2,"v":0},{"l":4,"h":3,"v":1},{"l":4,"h":4,"v":1},{"l":4,"h":5,"v":1},{"l":4,"h":6,"v":0},{"l":4,"h":7,"v":0},{"l":4,"h":8,"v":0},{"l":4,"h":9,"v":1},{"l":4,"h":10,"v":0},{"l":4,"h":11,"v":1},{"l":4,"h":12,"v":0},
{"l":3,"h":1,"v":1},{"l":3,"h":2,"v":1},{"l":3,"h":3,"v":1},{"l":3,"h":4,"v":0},{"l":3,"h":5,"v":1},{"l":3,"h":6,"v":1},{"l":3,"h":7,"v":1},{"l":3,"h":8,"v":0},{"l":3,"h":9,"v":1},{"l":3,"h":10,"v":0},{"l":3,"h":11,"v":1},{"l":3,"h":12,"v":0},
{"l":2,"h":1,"v":1},{"l":2,"h":2,"v":1},{"l":2,"h":3,"v":0},{"l":2,"h":4,"v":0},{"l":2,"h":5,"v":0},{"l":2,"h":6,"v":1},{"l":2,"h":7,"v":1},{"l":2,"h":8,"v":0},{"l":2,"h":9,"v":0},{"l":2,"h":10,"v":1},{"l":2,"h":11,"v":1},{"l":2,"h":12,"v":1},
{"l":1,"h":1,"v":0},{"l":1,"h":2,"v":1},{"l":1,"h":3,"v":1},{"l":1,"h":4,"v":1},{"l":1,"h":5,"v":1},{"l":1,"h":6,"v":0},{"l":1,"h":7,"v":0},{"l":1,"h":8,"v":1},{"l":1,"h":9,"v":0},{"l":1,"h":10,"v":1},{"l":1,"h":11,"v":1},{"l":1,"h":12,"v":1}],
"p26":[{"l":5,"h":1,"v":1},{"l":5,"h":2,"v":1},{"l":5,"h":3,"v":0},{"l":5,"h":4,"v":0},{"l":5,"h":5,"v":0},{"l":5,"h":6,"v":0},{"l":5,"h":7,"v":1},{"l":5,"h":8,"v":0},{"l":5,"h":9,"v":0},{"l":5,"h":10,"v":1},{"l":5,"h":11,"v":1},{"l":5,"h":12,"v":1},
{"l":4,"h":1,"v":1},{"l":4,"h":2,"v":0},{"l":4,"h":3,"v":1},{"l":4,"h":4,"v":1},{"l":4,"h":5,"v":1},{"l":4,"h":6,"v":1},{"l":4,"h":7,"v":0},{"l":4,"h":8,"v":0},{"l":4,"h":9,"v":1},{"l":4,"h":10,"v":0},{"l":4,"h":11,"v":0},{"l":4,"h":12,"v":1},
{"l":3,"h":1,"v":1},{"l":3,"h":2,"v":0},{"l":3,"h":3,"v":1},{"l":3,"h":4,"v":0},{"l":3,"h":5,"v":1},{"l":3,"h":6,"v":1},{"l":3,"h":7,"v":1},{"l":3,"h":8,"v":0},{"l":3,"h":9,"v":1},{"l":3,"h":10,"v":0},{"l":3,"h":11,"v":1},{"l":3,"h":12,"v":0},
{"l":2,"h":1,"v":1},{"l":2,"h":2,"v":1},{"l":2,"h":3,"v":0},{"l":2,"h":4,"v":1},{"l":2,"h":5,"v":0},{"l":2,"h":6,"v":1},{"l":2,"h":7,"v":1},{"l":2,"h":8,"v":0},{"l":2,"h":9,"v":0},{"l":2,"h":10,"v":1},{"l":2,"h":11,"v":1},{"l":2,"h":12,"v":1},
{"l":1,"h":1,"v":0},{"l":1,"h":2,"v":1},{"l":1,"h":3,"v":1},{"l":1,"h":4,"v":1},{"l":1,"h":5,"v":1},{"l":1,"h":6,"v":0},{"l":1,"h":7,"v":0},{"l":1,"h":8,"v":1},{"l":1,"h":9,"v":0},{"l":1,"h":10,"v":1},{"l":1,"h":11,"v":1},{"l":1,"h":12,"v":1}],
"p27":[{"l":5,"h":1,"v":0},{"l":5,"h":2,"v":0},{"l":5,"h":3,"v":0},{"l":5,"h":4,"v":0},{"l":5,"h":5,"v":0},{"l":5,"h":6,"v":0},{"l":5,"h":7,"v":0},{"l":5,"h":8,"v":0},{"l":5,"h":9,"v":0},{"l":5,"h":10,"v":0},{"l":5,"h":11,"v":0},{"l":5,"h":12,"v":0},
{"l":4,"h":1,"v":0},{"l":4,"h":2,"v":0},{"l":4,"h":3,"v":0},{"l":4,"h":4,"v":0},{"l":4,"h":5,"v":0},{"l":4,"h":6,"v":0},{"l":4,"h":7,"v":0},{"l":4,"h":8,"v":0},{"l":4,"h":9,"v":1},{"l":4,"h":10,"v":0},{"l":4,"h":11,"v":0},{"l":4,"h":12,"v":0},
{"l":3,"h":1,"v":1},{"l":3,"h":2,"v":0},{"l":3,"h":3,"v":0},{"l":3,"h":4,"v":1},{"l":3,"h":5,"v":0},{"l":3,"h":6,"v":1},{"l":3,"h":7,"v":0},{"l":3,"h":8,"v":0},{"l":3,"h":9,"v":0},{"l":3,"h":10,"v":0},{"l":3,"h":11,"v":0},{"l":3,"h":12,"v":0},
{"l":2,"h":1,"v":0},{"l":2,"h":2,"v":1},{"l":2,"h":3,"v":0},{"l":2,"h":4,"v":0},{"l":2,"h":5,"v":0},{"l":2,"h":6,"v":0},{"l":2,"h":7,"v":0},{"l":2,"h":8,"v":0},{"l":2,"h":9,"v":0},{"l":2,"h":10,"v":0},{"l":2,"h":11,"v":0},{"l":2,"h":12,"v":0},
{"l":1,"h":1,"v":0},{"l":1,"h":2,"v":0},{"l":1,"h":3,"v":0},{"l":1,"h":4,"v":0},{"l":1,"h":5,"v":0},{"l":1,"h":6,"v":0},{"l":1,"h":7,"v":0},{"l":1,"h":8,"v":0},{"l":1,"h":9,"v":0},{"l":1,"h":10,"v":0},{"l":1,"h":11,"v":0},{"l":1,"h":12,"v":0}],
"p28":[{"l":5,"h":1,"v":1},{"l":5,"h":2,"v":1},{"l":5,"h":3,"v":0},{"l":5,"h":4,"v":1},{"l":5,"h":5,"v":0},{"l":5,"h":6,"v":1},{"l":5,"h":7,"v":1},{"l":5,"h":8,"v":0},{"l":5,"h":9,"v":1},{"l":5,"h":10,"v":1},{"l":5,"h":11,"v":1},{"l":5,"h":12,"v":1},
{"l":4,"h":1,"v":0},{"l":4,"h":2,"v":1},{"l":4,"h":3,"v":1},{"l":4,"h":4,"v":1},{"l":4,"h":5,"v":1},{"l":4,"h":6,"v":1},{"l":4,"h":7,"v":1},{"l":4,"h":8,"v":1},{"l":4,"h":9,"v":1},{"l":4,"h":10,"v":1},{"l":4,"h":11,"v":0},{"l":4,"h":12,"v":0},
{"l":3,"h":1,"v":1},{"l":3,"h":2,"v":0},{"l":3,"h":3,"v":1},{"l":3,"h":4,"v":1},{"l":3,"h":5,"v":1},{"l":3,"h":6,"v":1},{"l":3,"h":7,"v":1},{"l":3,"h":8,"v":0},{"l":3,"h":9,"v":1},{"l":3,"h":10,"v":1},{"l":3,"h":11,"v":1},{"l":3,"h":12,"v":0},
{"l":2,"h":1,"v":1},{"l":2,"h":2,"v":1},{"l":2,"h":3,"v":0},{"l":2,"h":4,"v":1},{"l":2,"h":5,"v":1},{"l":2,"h":6,"v":0},{"l":2,"h":7,"v":1},{"l":2,"h":8,"v":1},{"l":2,"h":9,"v":1},{"l":2,"h":10,"v":1},{"l":2,"h":11,"v":1},{"l":2,"h":12,"v":0},
{"l":1,"h":1,"v":0},{"l":1,"h":2,"v":0},{"l":1,"h":3,"v":1},{"l":1,"h":4,"v":1},{"l":1,"h":5,"v":1},{"l":1,"h":6,"v":0},{"l":1,"h":7,"v":1},{"l":1,"h":8,"v":1},{"l":1,"h":9,"v":1},{"l":1,"h":10,"v":0},{"l":1,"h":11,"v":1},{"l":1,"h":12,"v":1}],
"p29":[{"l":5,"h":1,"v":1},{"l":5,"h":2,"v":1},{"l":5,"h":3,"v":0},{"l":5,"h":4,"v":0},{"l":5,"h":5,"v":0},{"l":5,"h":6,"v":0},{"l":5,"h":7,"v":0},{"l":5,"h":8,"v":0},{"l":5,"h":9,"v":0},{"l":5,"h":10,"v":1},{"l":5,"h":11,"v":1},{"l":5,"h":12,"v":1},
{"l":4,"h":1,"v":0},{"l":4,"h":2,"v":0},{"l":4,"h":3,"v":1},{"l":4,"h":4,"v":1},{"l":4,"h":5,"v":1},{"l":4,"h":6,"v":1},{"l":4,"h":7,"v":0},{"l":4,"h":8,"v":0},{"l":4,"h":9,"v":1},{"l":4,"h":10,"v":0},{"l":4,"h":11,"v":0},{"l":4,"h":12,"v":1},
{"l":3,"h":1,"v":1},{"l":3,"h":2,"v":0},{"l":3,"h":3,"v":1},{"l":3,"h":4,"v":1},{"l":3,"h":5,"v":1},{"l":3,"h":6,"v":1},{"l":3,"h":7,"v":1},{"l":3,"h":8,"v":0},{"l":3,"h":9,"v":1},{"l":3,"h":10,"v":0},{"l":3,"h":11,"v":0},{"l":3,"h":12,"v":0},
{"l":2,"h":1,"v":1},{"l":2,"h":2,"v":1},{"l":2,"h":3,"v":0},{"l":2,"h":4,"v":1},{"l":2,"h":5,"v":0},{"l":2,"h":6,"v":0},{"l":2,"h":7,"v":0},{"l":2,"h":8,"v":1},{"l":2,"h":9,"v":0},{"l":2,"h":10,"v":0},{"l":2,"h":11,"v":1},{"l":2,"h":12,"v":0},
{"l":1,"h":1,"v":0},{"l":1,"h":2,"v":0},{"l":1,"h":3,"v":1},{"l":1,"h":4,"v":1},{"l":1,"h":5,"v":0},{"l":1,"h":6,"v":0},{"l":1,"h":7,"v":1},{"l":1,"h":8,"v":1},{"l":1,"h":9,"v":1},{"l":1,"h":10,"v":0},{"l":1,"h":11,"v":0},{"l":1,"h":12,"v":0}],
"p30":[{"l":5,"h":1,"v":1},{"l":5,"h":2,"v":0},{"l":5,"h":3,"v":1},{"l":5,"h":4,"v":0},{"l":5,"h":5,"v":0},{"l":5,"h":6,"v":0},{"l":5,"h":7,"v":0},{"l":5,"h":8,"v":0},{"l":5,"h":9,"v":0},{"l":5,"h":10,"v":0},{"l":5,"h":11,"v":0},{"l":5,"h":12,"v":0},
{"l":4,"h":1,"v":0},{"l":4,"h":2,"v":1},{"l":4,"h":3,"v":0},{"l":4,"h":4,"v":0},{"l":4,"h":5,"v":0},{"l":4,"h":6,"v":0},{"l":4,"h":7,"v":1},{"l":4,"h":8,"v":1},{"l":4,"h":9,"v":0},{"l":4,"h":10,"v":1},{"l":4,"h":11,"v":0},{"l":4,"h":12,"v":0},
{"l":3,"h":1,"v":1},{"l":3,"h":2,"v":0},{"l":3,"h":3,"v":0},{"l":3,"h":4,"v":1},{"l":3,"h":5,"v":0},{"l":3,"h":6,"v":1},{"l":3,"h":7,"v":1},{"l":3,"h":8,"v":0},{"l":3,"h":9,"v":1},{"l":3,"h":10,"v":1},{"l":3,"h":11,"v":1},{"l":3,"h":12,"v":0},
{"l":2,"h":1,"v":0},{"l":2,"h":2,"v":1},{"l":2,"h":3,"v":0},{"l":2,"h":4,"v":1},{"l":2,"h":5,"v":0},{"l":2,"h":6,"v":0},{"l":2,"h":7,"v":0},{"l":2,"h":8,"v":1},{"l":2,"h":9,"v":0},{"l":2,"h":10,"v":1},{"l":2,"h":11,"v":1},{"l":2,"h":12,"v":1},
{"l":1,"h":1,"v":1},{"l":1,"h":2,"v":1},{"l":1,"h":3,"v":0},{"l":1,"h":4,"v":0},{"l":1,"h":5,"v":1},{"l":1,"h":6,"v":1},{"l":1,"h":7,"v":0},{"l":1,"h":8,"v":1},{"l":1,"h":9,"v":0},{"l":1,"h":10,"v":1},{"l":1,"h":11,"v":1},{"l":1,"h":12,"v":1}]
},
"columns":6,
"spacing":{"row":166.4,"column":19},
"bounds":"flush",
"align":"each",
"concat":[
{"data":{"name":"p1"},"title":"nsubj|ROOT|dobj|. \u00a0(0.229 -> 0.227)","width":576,"height":240,"mark":"rect","encoding":{"x":{"field":"h","type":"ordinal","title":"Head","scale":{"domain":[1,2,3,4,5,6,7,8,9,10,11,12]}},"y":{"field":"l","type":"ordinal","title":"Layer","scale":{"domain":[5,4,3,2,1]}},"fill":{"field":"v","type":"quantitative","scale":{"domain":[0,1],"range":["#000000","#ffffff"]},"legend":null},"stroke":{"field":"v","type":"quantitative","scale":{"domain":[0,1],"range":["#000000","#ffffff"]},"legend":null}}},
{"data":{"name":"cb"},"width":360,"height":240,"view":{"stroke":null},"mark":{"type":"rect","stroke":"#000000","strokeWidth":2},"encoding":{"x":{"datum":"bar","type":"nominal","scale":{"range":[0,34]},"axis":null},"y":{"field":"lo","type":"quantitative","scale":{"domain":[0,1],"nice":false,"zero":false},"axis":{"orient":"right","offset":-326,"values":[0,0.25,0.5,0.75,1],"format":".2f","title":null}},"y2":{"field":"hi"},"fill":{"field":"v","type":"quantitative","scale":{"domain":[0,1],"range":["#000000","#ffffff"]},"legend":null}}},
{"data":{"name":"p2"},"title":"nsubj|ROOT|acomp|. \u00a0(0.251 -> 0.230)","width":576,"height":240,"mark":"rect","encoding":{"x":{"field":"h","type":"ordinal","title":"Head","scale":{"domain":[1,2,3,4,5,6,7,8,9,10,11,12]}},"y":{"field":"l","type":"ordinal","title":"Layer","scale":{"domain":[5,4,3,2,1]}},"fill":{"field":"v","type":"quantitative","scale":{"domain":[0,1],"range":["#000000","#ffffff"]},"legend":null},"stroke":{"field":"v","type":"quantitative","scale":{"domain":[0,1],"range":["#000000","#ffffff"]},"legend":null}}},
{"data":{"name":"cb"},"width":360,"height":240,"view":{"stroke":null},"mark":{"type":"rect","stroke":"#000000","strokeWidth":2},"encoding":{"x":{"datum":"bar","type":"nominal","scale":{"range":[0,34]},"axis":null},"y":{"field":"lo","type":"quantitative","scale":{"domain":[0,1],"nice":false,"zero":false},"axis":{"orient":"right","offset":-326,"values":[0,0.25,0.5,0.75,1],"format":".2f","title":null}},"y2":{"field":"hi"},"fill":{"field":"v","type":"quantitative","scale":{"domain":[0,1],"range":["#000000","#ffffff"]},"legend":null}}},
{"data":{"name":"p3"},"title":"nsubj|ROOT|det|amod|attr|. \u00a0(0.209 -> 0.166)","width":576,"height":240,"mark":"rect","encoding":{"x":{"field":"h","type":"ordinal","title":"Head","scale":{"domain":[1,2,3,4,5,6,7,8,9,10,11,12]}},"y":{"field":"l","type":"ordinal","title":"Layer","scale":{"domain":[5,4,3,2,1]}},"fill":{"field":"v","type":"quantitative","scale":{"domain":[0,1],"range":["#000000","#ffffff"]},"legend":null},"stroke":{"field":"v","type":"quantitative","scale":{"domain":[0,1],"range":["#000000","#ffffff"]},"legend":null}}},
{"data":{"name":"cb"},"width":360,"height":240,"view":{"stroke":null},"mark":{"type":"rect","stroke":"#000000","strokeWidth":2},"encoding":{"x":{"datum":"bar","type":"nominal","scale":{"range":[0,34]},"axis":null},"y":{"field":"lo","type":"quantitative","scale":{"domain":[0,1],"nice":false,"zero":false},"axis":{"orient":"right","offset":-326,"values":[0,0.25,0.5,0.75,1],"format":".2f","title":null}},"y2":{"field":"hi"},"fill":{"field":"v","type":"quantitative","scale":{"domain":[0,1],"range":["#000000","#ffffff"]},"legend":null}}},
{"data":{"name":"p4"},"title":"nsubj|ROOT|det|dobj|. \u00a0(0.157 -> 0.116)","width":576,"height":240,"mark":"rect","encoding":{"x":{"field":"h","type":"ordinal","title":"Head","scale":{"domain":[1,2,3,4,5,6,7,8,9,10,11,12]}},"y":{"field":"l","type":"ordinal","title":"Layer","scale":{"domain":[5,4,3,2,1]}},"fill":{"field":"v","type":"quantitative","scale":{"domain":[0,1],"range":["#000000","#ffffff"]},"legend":null},"stroke":{"field":"v","type":"quantitative","scale":{"domain":[0,1],"range":["#000000","#ffffff"]},"legend":null}}},
{"data":{"name":"cb"},"width":360,"height":240,"view":{"stroke":null},"mark":{"type":"rect","stroke":"#000000","strokeWidth":2},"encoding":{"x":{"datum":"bar","type":"nominal","scale":{"range":[0,34]},"axis":null},"y":{"field":"lo","type":"quantitative","scale":{"domain":[0,1],"nice":false,"zero":false},"axis":{"orient":"right","offset":-326,"values":[0,0.25,0.5,0.75,1],"format":".2f","title":null}},"y2":{"field":"hi"},"fill":{"field":"v","type":"quantitative","scale":{"domain":[0,1],"range":["#000000","#ffffff"]},"legend":null}}},
{"data":{"name":"p5"},"title":"nsubj|ROOT|. \u00a0(0.206 -> 0.186)","width":576,"height":240,"mark":"rect","encoding":{"x":{"field":"h","type":"ordinal","title":"Head","scale":{"domain":[1,2,3,4,5,6,7,8,9,10,11,12]}},"y":{"field":"l","type":"ordinal","title":"Layer","scale":{"domain":[5,4,3,2,1]}},"fill":{"field":"v","type":"quantitative","scale":{"domain":[0,1],"range":["#000000","#ffffff"]},"legend":null},"stroke":{"field":"v","type":"quantitative","scale":{"domain":[0,1],"range":["#000000","#ffffff"]},"legend":null}}},
{"data":{"name":"cb"},"width":360,"height":240,"view":{"stroke":null},"mark":{"type":"rect","stroke":"#000000","strokeWidth":2},"encoding":{"x":{"datum":"bar","type":"nominal","scale":{"range":[0,34]},"axis":null},"y":{"field":"lo","type":"quantitative","scale":{"domain":[0,1],"nice":false,"zero":false},"axis":{"orient":"right","offset":-326,"values":[0,0.25,0.5,0.75,1],"format":".2f","title":null}},"y2":{"field":"hi"},"fill":{"field":"v","type":"quantitative","scale":{"domain":[0,1],"range":["#000000","#ffffff"]},"legend":null}}},
{"data":{"name":"p6"},"title":"nsubj|ROOT|advmod|acomp|. \u00a0(0.197 -> 0.168)","width":576,"height":240,"mark":"rect","encoding":{"x":{"field":"h","type":"ordinal","title":"Head","scale":{"domain":[1,2,3,4,5,6,7,8,9,10,11,12]}},"y":{"field":"l","type":"ordinal","title":"Layer","scale":{"domain":[5,4,3,2,1]}},"fill":{"field":"v","type":"quantitative","scale":{"domain":[0,1],"range":["#000000","#ffffff"]},"legend":null},"stroke":{"field":"v","type":"quantitative","scale":{"domain":[0,1],"range":["#000000","#ffffff"]},"legend":null}}},
{"data":{"name":"cb"},"width":360,"height":240,"view":{"stroke":null},"mark":{"type":"rect","stroke":"#000000","strokeWidth":2},"encoding":{"x":{"datum":"bar","type":"nominal","scale":{"range":[0,34]},"axis":null},"y":{"field":"lo","type":"quantitative","scale":{"domain":[0,1],"nice":false,"zero":false},"axis":{"orient":"right","offset":-326,"values":[0,0.25,0.5,0.75,1],"format":".2f","title":null}},"y2":{"field":"hi"},"fill":{"field":"v","type":"quantitative","scale":{"domain":[0,1],"range":["#000000","#ffffff"]},"legend":null}}},
{"data":{"name":"white"},"title":"nsubj|ROOT|prep|pobj|. \u00a0(0.211 -> 0.211)","width":576,"height":240,"mark":"rect","encoding":{"x":{"field":"h","type":"ordinal","title":"Head","scale":{"domain":[1,2,3,4,5,6,7,8,9,10,11,12]}},"y":{"field":"l","type":"ordinal","title":"Layer","scale":{"domain":[5,4,3,2,1]}},"fill":{"field":"v","type":"quantitative","scale":{"domain":[0,1],"range":["#000000","#ffffff"]},"legend":null},"stroke":{"field":"v","type":"quantitative","scale":{"domain":[0,1],"range":["#000000","#ffffff"]},"legend":null}}},
{"data":{"name":"cb"},"width":360,"height":240,"view":{"stroke":null},"mark":{"type":"rect","stroke":"#000000","strokeWidth":2},"encoding":{"x":{"datum":"bar","type":"nominal","scale":{"range":[0,34]},"axis":null},"y":{"field":"lo","type":"quantitative","scale":{"domain":[0,1],"nice":false,"zero":false},"axis":{"orient":"right","offset":-326,"values":[0,0.25,0.5,0.75,1],"format":".2f","title":null}},"y2":{"field":"hi"},"fill":{"field":"v","type":"quantitative","scale":{"domain":[0,1],"range":["#000000","#ffffff"]},"legend":null}}},
{"data":{"name":"white"},"title":"det|nsubj|ROOT|acomp|. \u00a0(0.275 -> 0.275)","width":576,"height":240,"mark":"rect","encoding":{"x":{"field":"h","type":"ordinal","title":"Head","scale":{"domain":[1,2,3,4,5,6,7,8,9,10,11,12]}},"y":{"field":"l","type":"ordinal","title":"Layer","scale":{"domain":[5,4,3,2,1]}},"fill":{"field":"v","type":"quantitative","scale":{"domain":[0,1],"range":["#000000","#ffffff"]},"legend":null},"stroke":{"field":"v","type":"quantitative","scale":{"domain":[0,1],"range":["#000000","#ffffff"]},"legend":null}}},
{"data":{"name":"cb"},"width":360,"height":240,"view":{"stroke":null},"mark":{"type":"rect","stroke":"#000000","strokeWidth":2},"encoding":{"x":{"datum":"bar","type":"nominal","scale":{"range":[0,34]},"axis":null},"y":{"field":"lo","type":"quantitative","scale":{"domain":[0,1],"nice":false,"zero":false},"axis":{"orient":"right","offset":-326,"values":[0,0.25,0.5,0.75,1],"format":".2f","title":null}},"y2":{"field":"hi"},"fill":{"field":"v","type":"quantitative","scale":{"domain":[0,1],"range":["#000000","#ffffff"]},"legend":null}}},
{"data":{"name":"white"},"title":"nsubj|ROOT|prep|det|pobj|. \u00a0(0.170 -> 0.170)","width":576,"height":240,"mark":"rect","encoding":{"x":{"field":"h","type":"ordinal","title":"Head","scale":{"domain":[1,2,3,4,5,6,7,8,9,10,11,12]}},"y":{"field":"l","type":"ordinal","title":"Layer","scale":{"domain":[5,4,3,2,1]}},"fill":{"field":"v","type":"quantitative","scale":{"domain":[0,1],"range":["#000000","#ffffff"]},"legend":null},"stroke":{"field":"v","type":"quantitative","scale":{"domain":[0,1],"range":["#000000","#ffffff"]},"legend":null}}},
{"data":{"name":"cb"},"width":360,"height":240,"view":{"stroke":null},"mark":{"type":"rect","stroke":"#000000","strokeWidth":2},"encoding":{"x":{"datum":"bar","type":"nominal","scale":{"range":[0,34]},"axis":null},"y":{"field":"lo","type":"quantitative","scale":{"domain":[0,1],"nice":false,"zero":false},"axis":{"orient":"right","offset":-326,"values":[0,0.25,0.5,0.75,1],"format":".2f","title":null}},"y2":{"field":"hi"},"fill":{"field":"v","type":"quantitative","scale":{"domain":[0,1],"range":["#000000","#ffffff"]},"legend":null}}},
{"data":{"name":"p10"},"title":"nsubj|ROOT|det|attr|. \u00a0(0.209 -> 0.201)","width":576,"height":240,"mark":"rect","encoding":{"x":{"field":"h","type":"ordinal","title":"Head","scale":{"domain":[1,2,3,4,5,6,7,8,9,10,11,12]}},"y":{"field":"l","type":"ordinal","title":"Layer","scale":{"domain":[5,4,3,2,1]}},"fill":{"field":"v","type":"quantitative","scale":{"domain":[0,1],"range":["#000000","#ffffff"]},"legend":null},"stroke":{"field":"v","type":"quantitative","scale":{"domain":[0,1],"range":["#000000","#ffffff"]},"legend":null}}},
{"data":{"name":"cb"},"width":360,"height":240,"view":{"stroke":null},"mark":{"type":"rect","stroke":"#000000","strokeWidth":2},"encoding":{"x":{"datum":"bar","type":"nominal","scale":{"range":[0,34]},"axis":null},"y":{"field":"lo","type":"quantitative","scale":{"domain":[0,1],"nice":false,"zero":false},"axis":{"orient":"right","offset":-326,"values":[0,0.25,0.5,0.75,1],"format":".2f","title":null}},"y2":{"field":"hi"},"fill":{"field":"v","type":"quantitative","scale":{"domain":[0,1],"range":["#000000","#ffffff"]},"legend":null}}},
{"data":{"name":"p11"},"title":"det|nsubj|ROOT|. \u00a0(0.224 -> 0.208)","width":576,"height":240,"mark":"rect","encoding":{"x":{"field":"h","type":"ordinal","title":"Head","scale":{"domain":[1,2,3,4,5,6,7,8,9,10,11,12]}},"y":{"field":"l","type":"ordinal","title":"Layer","scale":{"domain":[5,4,3,2,1]}},"fill":{"field":"v","type":"quantitative","scale":{"domain":[0,1],"range":["#000000","#ffffff"]},"legend":null},"stroke":{"field":"v","type":"quantitative","scale":{"domain":[0,1],"range":["#000000","#ffffff"]},"legend":null}}},
{"data":{"name":"cb"},"width":360,"height":240,"view":{"stroke":null},"mark":{"type":"rect","stroke":"#000000","strokeWidth":2},"encoding":{"x":{"datum":"bar","type":"nominal","scale":{"range":[0,34]},"axis":null},"y":{"field":"lo","type":"quantitative","scale":{"domain":[0,1],"nice":false,"zero":false},"axis":{"orient":"right","offset":-326,"values":[0,0.25,0.5,0.75,1],"format":".2f","title":null}},"y2":{"field":"hi"},"fill":{"field":"v","type":"quantitative","scale":{"domain":[0,1],"range":["#000000","#ffffff"]},"legend":null}}},
{"data":{"name":"p12"},"title":"nsubj|aux|ROOT|dobj|. \u00a0(0.284 -> 0.271)","width":576,"height":240,"mark":"rect","encoding":{"x":{"field":"h","type":"ordinal","title":"Head","scale":{"domain":[1,2,3,4,5,6,7,8,9,10,11,12]}},"y":{"field":"l","type":"ordinal","title":"Layer","scale":{"domain":[5,4,3,2,1]}},"fill":{"field":"v","type":"quantitative","scale":{"domain":[0,1],"range":["#000000","#ffffff"]},"legend":null},"stroke":{"field":"v","type":"quantitative","scale":{"domain":[0,1],"range":["#000000","#ffffff"]},"legend":null}}},
{"data":{"name":"cb"},"width":360,"height":240,"view":{"stroke":null},"mark":{"type":"rect","stroke":"#000000","strokeWidth":2},"encoding":{"x":{"datum":"bar","type":"nominal","scale":{"range":[0,34]},"axis":null},"y":{"field":"lo","type":"quantitative","scale":{"domain":[0,1],"nice":false,"zero":false},"axis":{"orient":"right","offset":-326,"values":[0,0.25,0.5,0.75,1],"format":".2f","title":null}},"y2":{"field":"hi"},"fill":{"field":"v","type":"quantitative","scale":{"domain":[0,1],"range":["#000000","#ffffff"]},"legend":null}}},
{"data":{"name":"p13"},"title":"nsubj|ROOT|det|amod|dobj|. \u00a0(0.182 -> 0.181)","width":576,"height":240,"mark":"rect","encoding":{"x":{"field":"h","type":"ordinal","title":"Head","scale":{"domain":[1,2,3,4,5,6,7,8,9,10,11,12]}},"y":{"field":"l","type":"ordinal","title":"Layer","scale":{"domain":[5,4,3,2,1]}},"fill":{"field":"v","type":"quantitative","scale":{"domain":[0,1],"range":["#000000","#ffffff"]},"legend":null},"stroke":{"field":"v","type":"quantitative","scale":{"domain":[0,1],"range":["#000000","#ffffff"]},"legend":null}}},
{"data":{"name":"cb"},"width":360,"height":240,"view":{"stroke":null},"mark":{"type":"rect","stroke":"#000000","strokeWidth":2},"encoding":{"x":{"datum":"bar","type":"nominal","scale":{"range":[0,34]},"axis":null},"y":{"field":"lo","type":"quantitative","scale":{"domain":[0,1],"nice":false,"zero":false},"axis":{"orient":"right","offset":-326,"values":[0,0.25,0.5,0.75,1],"format":".2f","title":null}},"y2":{"field":"hi"},"fill":{"field":"v","type":"quantitative","scale":{"domain":[0,1],"range":["#000000","#ffffff"]},"legend":null}}},
{"data":{"name":"p14"},"title":"nsubj|ROOT|advmod|. \u00a0(0.254 -> 0.248)","width":576,"height":240,"mark":"rect","encoding":{"x":{"field":"h","type":"ordinal","title":"Head","scale":{"domain":[1,2,3,4,5,6,7,8,9,10,11,12]}},"y":{"field":"l","type":"ordinal","title":"Layer","scale":{"domain":[5,4,3,2,1]}},"fill":{"field":"v","type":"quantitative","scale":{"domain":[0,1],"range":["#000000","#ffffff"]},"legend":null},"stroke":{"field":"v","type":"quantitative","scale":{"domain":[0,1],"range":["#000000","#ffffff"]},"legend":null}}},
{"data":{"name":"cb"},"width":360,"height":240,"view":{"stroke":null},"mark":{"type":"rect","stroke":"#000000","strokeWidth":2},"encoding":{"x":{"datum":"bar","type":"nominal","scale":{"range":[0,34]},"axis":null},"y":{"field":"lo","type":"quantitative","scale":{"domain":[0,1],"nice":false,"zero":false},"axis":{"orient":"right","offset":-326,"values":[0,0.25,0.5,0.75,1],"format":".2f","title":null}},"y2":{"field":"hi"},"fill":{"field":"v","type":"quantitative","scale":{"domain":[0,1],"range":["#000000","#ffffff"]},"legend":null}}},
{"data":{"name":"p15"},"title":"nsubj|ROOT|poss|dobj|. \u00a0(0.122 -> 0.120)","width":576,"height":240,"mark":"rect","encoding":{"x":{"field":"h","type":"ordinal","title":"Head","scale":{"domain":[1,2,3,4,5,6,7,8,9,10,11,12]}},"y":{"field":"l","type":"ordinal","title":"Layer","scale":{"domain":[5,4,3,2,1]}},"fill":{"field":"v","type":"quantitative","scale":{"domain":[0,1],"range":["#000000","#ffffff"]},"legend":null},"stroke":{"field":"v","type":"quantitative","scale":{"domain":[0,1],"range":["#000000","#ffffff"]},"legend":null}}},
{"data":{"name":"cb"},"width":360,"height":240,"view":{"stroke":null},"mark":{"type":"rect","stroke":"#000000","strokeWidth":2},"encoding":{"x":{"datum":"bar","type":"nominal","scale":{"range":[0,34]},"axis":null},"y":{"field":"lo","type":"quantitative","scale":{"domain":[0,1],"nice":false,"zero":false},"axis":{"orient":"right","offset":-326,"values":[0,0.25,0.5,0.75,1],"format":".2f","title":null}},"y2":{"field":"hi"},"fill":{"field":"v","type":"quantitative","scale":{"domain":[0,1],"range":["#000000","#ffffff"]},"legend":null}}},
{"data":{"name":"white"},"title":"nsubj|aux|ROOT|. \u00a0(0.383 -> 0.383)","width":576,"height":240,"mark":"rect","encoding":{"x":{"field":"h","type":"ordinal","title":"Head","scale":{"domain":[1,2,3,4,5,6,7,8,9,10,11,12]}},"y":{"field":"l","type":"ordinal","title":"Layer","scale":{"domain":[5,4,3,2,1]}},"fill":{"field":"v","type":"quantitative","scale":{"domain":[0,1],"range":["#000000","#ffffff"]},"legend":null},"stroke":{"field":"v","type":"quantitative","scale":{"domain":[0,1],"range":["#000000","#ffffff"]},"legend":null}}},
{"data":{"name":"cb"},"width":360,"height":240,"view":{"stroke":null},"mark":{"type":"rect","stroke":"#000000","strokeWidth":2},"encoding":{"x":{"datum":"bar","type":"nominal","scale":{"range":[0,34]},"axis":null},"y":{"field":"lo","type":"quantitative","scale":{"domain":[0,1],"nice":false,"zero":false},"axis":{"orient":"right","offset":-326,"values":[0,0.25,0.5,0.75,1],"format":".2f","title":null}},"y2":{"field":"hi"},"fill":{"field":"v","type":"quantitative","scale":{"domain":[0,1],"range":["#000000","#ffffff"]},"legend":null}}},
{"data":{"name":"p17"},"title":"det|nsubj|ROOT|advmod|acomp|. \u00a0(0.258 -> 0.257)","width":576,"height":240,"mark":"rect","encoding":{"x":{"field":"h","type":"ordinal","title":"Head","scale":{"domain":[1,2,3,4,5,6,7,8,9,10,11,12]}},"y":{"field":"l","type":"ordinal","title":"Layer","scale":{"domain":[5,4,3,2,1]}},"fill":{"field":"v","type":"quantitative","scale":{"domain":[0,1],"range":["#000000","#ffffff"]},"legend":null},"stroke":{"field":"v","type":"quantitative","scale":{"domain":[0,1],"range":["#000000","#ffffff"]},"legend":null}}},
{"data":{"name":"cb"},"width":360,"height":240,"view":{"stroke":null},"mark":{"type":"rect","stroke":"#000000","strokeWidth":2},"encoding":{"x":{"datum":"bar","type":"nominal","scale":{"range":[0,34]},"axis":null},"y":{"field":"lo","type":"quantitative","scale":{"domain":[0,1],"nice":false,"zero":false},"axis":{"orient":"right","offset":-326,"values":[0,0.25,0.5,0.75,1],"format":".2f","title":null}},"y2":{"field":"hi"},"fill":{"field":"v","type":"quantitative","scale":{"domain":[0,1],"range":["#000000","#ffffff"]},"legend":null}}},
{"data":{"name":"p18"},"title":"nsubj|ROOT|attr|. \u00a0(0.475 -> 0.439)","width":576,"height":240,"mark":"rect","encoding":{"x":{"field":"h","type":"ordinal","title":"Head","scale":{"domain":[1,2,3,4,5,6,7,8,9,10,11,12]}},"y":{"field":"l","type":"ordinal","title":"Layer","scale":{"domain":[5,4,3,2,1]}},"fill":{"field":"v","type":"quantitative","scale":{"domain":[0,1],"range":["#000000","#ffffff"]},"legend":null},"stroke":{"field":"v","type":"quantitative","scale":{"domain":[0,1],"range":["#000000","#ffffff"]},"legend":null}}},
{"data":{"name":"cb"},"width":360,"height":240,"view":{"stroke":null},"mark":{"type":"rect","stroke":"#000000","strokeWidth":2},"encoding":{"x":{"datum":"bar","type":"nominal","scale":{"range":[0,34]},"axis":null},"y":{"field":"lo","type":"quantitative","scale":{"domain":[0,1],"nice":false,"zero":false},"axis":{"orient":"right","offset":-326,"values":[0,0.25,0.5,0.75,1],"format":".2f","title":null}},"y2":{"field":"hi"},"fill":{"field":"v","type":"quantitative","scale":{"domain":[0,1],"range":["#000000","#ffffff"]},"legend":null}}},
{"data":{"name":"p19"},"title":"nsubj|ROOT|det|dobj|prep|pobj|. \u00a0(0.172 -> 0.134)","width":576,"height":240,"mark":"rect","encoding":{"x":{"field":"h","type":"ordinal","title":"Head","scale":{"domain":[1,2,3,4,5,6,7,8,9,10,11,12]}},"y":{"field":"l","type":"ordinal","title":"Layer","scale":{"domain":[5,4,3,2,1]}},"fill":{"field":"v","type":"quantitative","scale":{"domain":[0,1],"range":["#000000","#ffffff"]},"legend":null},"stroke":{"field":"v","type":"quantitative","scale":{"domain":[0,1],"range":["#000000","#ffffff"]},"legend":null}}},
{"data":{"name":"cb"},"width":360,"height":240,"view":{"stroke":null},"mark":{"type":"rect","stroke":"#000000","strokeWidth":2},"encoding":{"x":{"datum":"bar","type":"nominal","scale":{"range":[0,34]},"axis":null},"y":{"field":"lo","type":"quantitative","scale":{"domain":[0,1],"nice":false,"zero":false},"axis":{"orient":"right","offset":-326,"values":[0,0.25,0.5,0.75,1],"format":".2f","title":null}},"y2":{"field":"hi"},"fill":{"field":"v","type":"quantitative","scale":{"domain":[0,1],"range":["#000000","#ffffff"]},"legend":null}}},
{"data":{"name":"p20"},"title":"nsubj|ROOT|dobj|prep|pobj|. \u00a0(0.255 -> 0.252)","width":576,"height":240,"mark":"rect","encoding":{"x":{"field":"h","type":"ordinal","title":"Head","scale":{"domain":[1,2,3,4,5,6,7,8,9,10,11,12]}},"y":{"field":"l","type":"ordinal","title":"Layer","scale":{"domain":[5,4,3,2,1]}},"fill":{"field":"v","type":"quantitative","scale":{"domain":[0,1],"range":["#000000","#ffffff"]},"legend":null},"stroke":{"field":"v","type":"quantitative","scale":{"domain":[0,1],"range":["#000000","#ffffff"]},"legend":null}}},
{"data":{"name":"cb"},"width":360,"height":240,"view":{"stroke":null},"mark":{"type":"rect","stroke":"#000000","strokeWidth":2},"encoding":{"x":{"datum":"bar","type":"nominal","scale":{"range":[0,34]},"axis":null},"y":{"field":"lo","type":"quantitative","scale":{"domain":[0,1],"nice":false,"zero":false},"axis":{"orient":"right","offset":-326,"values":[0,0.25,0.5,0.75,1],"format":".2f","title":null}},"y2":{"field":"hi"},"fill":{"field":"v","type":"quantitative","scale":{"domain":[0,1],"range":["#000000","#ffffff"]},"legend":null}}},
{"data":{"name":"black"},"title":"det|compound|ROOT|. \u00a0(1.136 -> 1.134)","width":576,"height":240,"mark":"rect","encoding":{"x":{"field":"h","type":"ordinal","title":"Head","scale":{"domain":[1,2,3,4,5,6,7,8,9,10,11,12]}},"y":{"field":"l","type":"ordinal","title":"Layer","scale":{"domain":[5,4,3,2,1]}},"fill":{"field":"v","type":"quantitative","scale":{"domain":[0,1],"range":["#000000","#ffffff"]},"legend":null},"stroke":{"field":"v","type":"quantitative","scale":{"domain":[0,1],"range":["#000000","#ffffff"]},"legend":null}}},
{"data":{"name":"cb"},"width":360,"height":240,"view":{"stroke":null},"mark":{"type":"rect","stroke":"#000000","strokeWidth":2},"encoding":{"x":{"datum":"bar","type":"nominal","scale":{"range":[0,34]},"axis":null},"y":{"field":"lo","type":"quantitative","scale":{"domain":[0,1],"nice":false,"zero":false},"axis":{"orient":"right","offset":-326,"values":[0,0.25,0.5,0.75,1],"format":".2f","title":null}},"y2":{"field":"hi"},"fill":{"field":"v","type":"quantitative","scale":{"domain":[0,1],"range":["#000000","#ffffff"]},"legend":null}}},
{"data":{"name":"p22"},"title":"aux|nsubj|ROOT|dobj|? \u00a0(0.175 -> 0.126)","width":576,"height":240,"mark":"rect","encoding":{"x":{"field":"h","type":"ordinal","title":"Head","scale":{"domain":[1,2,3,4,5,6,7,8,9,10,11,12]}},"y":{"field":"l","type":"ordinal","title":"Layer","scale":{"domain":[5,4,3,2,1]}},"fill":{"field":"v","type":"quantitative","scale":{"domain":[0,1],"range":["#000000","#ffffff"]},"legend":null},"stroke":{"field":"v","type":"quantitative","scale":{"domain":[0,1],"range":["#000000","#ffffff"]},"legend":null}}},
{"data":{"name":"cb"},"width":360,"height":240,"view":{"stroke":null},"mark":{"type":"rect","stroke":"#000000","strokeWidth":2},"encoding":{"x":{"datum":"bar","type":"nominal","scale":{"range":[0,34]},"axis":null},"y":{"field":"lo","type":"quantitative","scale":{"domain":[0,1],"nice":false,"zero":false},"axis":{"orient":"right","offset":-326,"values":[0,0.25,0.5,0.75,1],"format":".2f","title":null}},"y2":{"field":"hi"},"fill":{"field":"v","type":"quantitative","scale":{"domain":[0,1],"range":["#000000","#ffffff"]},"legend":null}}},
{"data":{"name":"p23"},"title":"nsubj|ROOT|amod|dobj|. \u00a0(0.256 -> 0.225)","width":576,"height":240,"mark":"rect","encoding":{"x":{"field":"h","type":"ordinal","title":"Head","scale":{"domain":[1,2,3,4,5,6,7,8,9,10,11,12]}},"y":{"field":"l","type":"ordinal","title":"Layer","scale":{"domain":[5,4,3,2,1]}},"fill":{"field":"v","type":"quantitative","scale":{"domain":[0,1],"range":["#000000","#ffffff"]},"legend":null},"stroke":{"field":"v","type":"quantitative","scale":{"domain":[0,1],"range":["#000000","#ffffff"]},"legend":null}}},
{"data":{"name":"cb"},"width":360,"height":240,"view":{"stroke":null},"mark":{"type":"rect","stroke":"#000000","strokeWidth":2},"encoding":{"x":{"datum":"bar","type":"nominal","scale":{"range":[0,34]},"axis":null},"y":{"field":"lo","type":"quantitative","scale":{"domain":[0,1],"nice":false,"zero":false},"axis":{"orient":"right","offset":-326,"values":[0,0.25,0.5,0.75,1],"format":".2f","title":null}},"y2":{"field":"hi"},"fill":{"field":"v","type":"quantitative","scale":{"domain":[0,1],"range":["#000000","#ffffff"]},"legend":null}}},
{"data":{"name":"p24"},"title":"nsubj|aux|ROOT|det|dobj|. \u00a0(0.220 -> 0.217)","width":576,"height":240,"mark":"rect","encoding":{"x":{"field":"h","type":"ordinal","title":"Head","scale":{"domain":[1,2,3,4,5,6,7,8,9,10,11,12]}},"y":{"field":"l","type":"ordinal","title":"Layer","scale":{"domain":[5,4,3,2,1]}},"fill":{"field":"v","type":"quantitative","scale":{"domain":[0,1],"range":["#000000","#ffffff"]},"legend":null},"stroke":{"field":"v","type":"quantitative","scale":{"domain":[0,1],"range":["#000000","#ffffff"]},"legend":null}}},
{"data":{"name":"cb"},"width":360,"height":240,"view":{"stroke":null},"mark":{"type":"rect","stroke":"#000000","strokeWidth":2},"encoding":{"x":{"datum":"bar","type":"nominal","scale":{"range":[0,34]},"axis":null},"y":{"field":"lo","type":"quantitative","scale":{"domain":[0,1],"nice":false,"zero":false},"axis":{"orient":"right","offset":-326,"values":[0,0.25,0.5,0.75,1],"format":".2f","title":null}},"y2":{"field":"hi"},"fill":{"field":"v","type":"quantitative","scale":{"domain":[0,1],"range":["#000000","#ffffff"]},"legend":null}}},
{"data":{"name":"white"},"title":"advmod|aux|nsubj|ROOT|dobj|? \u00a0(0.162 -> 0.162)","width":576,"height":240,"mark":"rect","encoding":{"x":{"field":"h","type":"ordinal","title":"Head","scale":{"domain":[1,2,3,4,5,6,7,8,9,10,11,12]}},"y":{"field":"l","type":"ordinal","title":"Layer","scale":{"domain":[5,4,3,2,1]}},"fill":{"field":"v","type":"quantitative","scale":{"domain":[0,1],"range":["#000000","#ffffff"]},"legend":null},"stroke":{"field":"v","type":"quantitative","scale":{"domain":[0,1],"range":["#000000","#ffffff"]},"legend":null}}},
{"data":{"name":"cb"},"width":360,"height":240,"view":{"stroke":null},"mark":{"type":"rect","stroke":"#000000","strokeWidth":2},"encoding":{"x":{"datum":"bar","type":"nominal","scale":{"range":[0,34]},"axis":null},"y":{"field":"lo","type":"quantitative","scale":{"domain":[0,1],"nice":false,"zero":false},"axis":{"orient":"right","offset":-326,"values":[0,0.25,0.5,0.75,1],"format":".2f","title":null}},"y2":{"field":"hi"},"fill":{"field":"v","type":"quantitative","scale":{"domain":[0,1],"range":["#000000","#ffffff"]},"legend":null}}},
{"data":{"name":"p26"},"title":"nsubj|aux|neg|ROOT|dobj|. \u00a0(0.199 -> 0.191)","width":576,"height":240,"mark":"rect","encoding":{"x":{"field":"h","type":"ordinal","title":"Head","scale":{"domain":[1,2,3,4,5,6,7,8,9,10,11,12]}},"y":{"field":"l","type":"ordinal","title":"Layer","scale":{"domain":[5,4,3,2,1]}},"fill":{"field":"v","type":"quantitative","scale":{"domain":[0,1],"range":["#000000","#ffffff"]},"legend":null},"stroke":{"field":"v","type":"quantitative","scale":{"domain":[0,1],"range":["#000000","#ffffff"]},"legend":null}}},
{"data":{"name":"cb"},"width":360,"height":240,"view":{"stroke":null},"mark":{"type":"rect","stroke":"#000000","strokeWidth":2},"encoding":{"x":{"datum":"bar","type":"nominal","scale":{"range":[0,34]},"axis":null},"y":{"field":"lo","type":"quantitative","scale":{"domain":[0,1],"nice":false,"zero":false},"axis":{"orient":"right","offset":-326,"values":[0,0.25,0.5,0.75,1],"format":".2f","title":null}},"y2":{"field":"hi"},"fill":{"field":"v","type":"quantitative","scale":{"domain":[0,1],"range":["#000000","#ffffff"]},"legend":null}}},
{"data":{"name":"p27"},"title":"ROOT|det|dobj|. \u00a0(0.410 -> 0.372)","width":576,"height":240,"mark":"rect","encoding":{"x":{"field":"h","type":"ordinal","title":"Head","scale":{"domain":[1,2,3,4,5,6,7,8,9,10,11,12]}},"y":{"field":"l","type":"ordinal","title":"Layer","scale":{"domain":[5,4,3,2,1]}},"fill":{"field":"v","type":"quantitative","scale":{"domain":[0,1],"range":["#000000","#ffffff"]},"legend":null},"stroke":{"field":"v","type":"quantitative","scale":{"domain":[0,1],"range":["#000000","#ffffff"]},"legend":null}}},
{"data":{"name":"cb"},"width":360,"height":240,"view":{"stroke":null},"mark":{"type":"rect","stroke":"#000000","strokeWidth":2},"encoding":{"x":{"datum":"bar","type":"nominal","scale":{"range":[0,34]},"axis":null},"y":{"field":"lo","type":"quantitative","scale":{"domain":[0,1],"nice":false,"zero":false},"axis":{"orient":"right","offset":-326,"values":[0,0.25,0.5,0.75,1],"format":".2f","title":null}},"y2":{"field":"hi"},"fill":{"field":"v","type":"quantitative","scale":{"domain":[0,1],"range":["#000000","#ffffff"]},"legend":null}}},
{"data":{"name":"p28"},"title":"nsubj|ROOT|aux|xcomp|dobj|. \u00a0(0.144 -> 0.130)","width":576,"height":240,"mark":"rect","encoding":{"x":{"field":"h","type":"ordinal","title":"Head","scale":{"domain":[1,2,3,4,5,6,7,8,9,10,11,12]}},"y":{"field":"l","type":"ordinal","title":"Layer","scale":{"domain":[5,4,3,2,1]}},"fill":{"field":"v","type":"quantitative","scale":{"domain":[0,1],"range":["#000000","#ffffff"]},"legend":null},"stroke":{"field":"v","type":"quantitative","scale":{"domain":[0,1],"range":["#000000","#ffffff"]},"legend":null}}},
{"data":{"name":"cb"},"width":360,"height":240,"view":{"stroke":null},"mark":{"type":"rect","stroke":"#000000","strokeWidth":2},"encoding":{"x":{"datum":"bar","type":"nominal","scale":{"range":[0,34]},"axis":null},"y":{"field":"lo","type":"quantitative","scale":{"domain":[0,1],"nice":false,"zero":false},"axis":{"orient":"right","offset":-326,"values":[0,0.25,0.5,0.75,1],"format":".2f","title":null}},"y2":{"field":"hi"},"fill":{"field":"v","type":"quantitative","scale":{"domain":[0,1],"range":["#000000","#ffffff"]},"legend":null}}},
{"data":{"name":"p29"},"title":"nsubj|advmod|ROOT|dobj|. \u00a0(0.189 -> 0.183)","width":576,"height":240,"mark":"rect","encoding":{"x":{"field":"h","type":"ordinal","title":"Head","scale":{"domain":[1,2,3,4,5,6,7,8,9,10,11,12]}},"y":{"field":"l","type":"ordinal","title":"Layer","scale":{"domain":[5,4,3,2,1]}},"fill":{"field":"v","type":"quantitative","scale":{"domain":[0,1],"range":["#000000","#ffffff"]},"legend":null},"stroke":{"field":"v","type":"quantitative","scale":{"domain":[0,1],"range":["#000000","#ffffff"]},"legend":null}}},
{"data":{"name":"cb"},"width":360,"height":240,"view":{"stroke":null},"mark":{"type":"rect","stroke":"#000000","strokeWidth":2},"encoding":{"x":{"datum":"bar","type":"nominal","scale":{"range":[0,34]},"axis":null},"y":{"field":"lo","type":"quantitative","scale":{"domain":[0,1],"nice":false,"zero":false},"axis":{"orient":"right","offset":-326,"values":[0,0.25,0.5,0.75,1],"format":".2f","title":null}},"y2":{"field":"hi"},"fill":{"field":"v","type":"quantitative","scale":{"domain":[0,1],"range":["#000000","#ffffff"]},"legend":null}}},
{"data":{"name":"p30"},"title":"det|nsubj|ROOT|prep|pobj|. \u00a0(0.233 -> 0.214)","width":576,"height":240,"mark":"rect","encoding":{"x":{"field":"h","type":"ordinal","title":"Head","scale":{"domain":[1,2,3,4,5,6,7,8,9,10,11,12]}},"y":{"field":"l","type":"ordinal","title":"Layer","scale":{"domain":[5,4,3,2,1]}},"fill":{"field":"v","type":"quantitative","scale":{"domain":[0,1],"range":["#000000","#ffffff"]},"legend":null},"stroke":{"field":"v","type":"quantitative","scale":{"domain":[0,1],"range":["#000000","#ffffff"]},"legend":null}}},
{"data":{"name":"cb"},"width":360,"height":240,"view":{"stroke":null},"mark":{"type":"rect","stroke":"#000000","strokeWidth":2},"encoding":{"x":{"datum":"bar","type":"nominal","scale":{"range":[0,34]},"axis":null},"y":{"field":"lo","type":"quantitative","scale":{"domain":[0,1],"nice":false,"zero":false},"axis":{"orient":"right","offset":-326,"values":[0,0.25,0.5,0.75,1],"format":".2f","title":null}},"y2":{"field":"hi"},"fill":{"field":"v","type":"quantitative","scale":{"domain":[0,1],"range":["#000000","#ffffff"]},"legend":null}}}
],
"config":{
"font":"DejaVu Sans",
"view":{"stroke":"#000000","strokeWidth":2.5},
"axis":{"domain":false,"grid":false,"labelFont":"DejaVu Sans","titleFont":"DejaVu Sans","labelFontSize":26.5,"titleFontSize":26.5,"titleFontWeight":"normal","labelColor":"#000000","titleColor":"#000000","tickColor":"#000000","tickSize":9.3,"tickWidth":2,"labelPadding":8.5},
"axisX":{"labelAngle":0,"titlePadding":8},
"axisLeft":{"titlePadding":10,"labelPadding":9.3},
"axisRight":{"labelPadding":8},
"title":{"font":"DejaVu Sans","fontSize":31.8,"fontWeight":"normal","color":"#000000","anchor":"middle","frame":"group","baseline":"alphabetic","offset":24}
}
}
